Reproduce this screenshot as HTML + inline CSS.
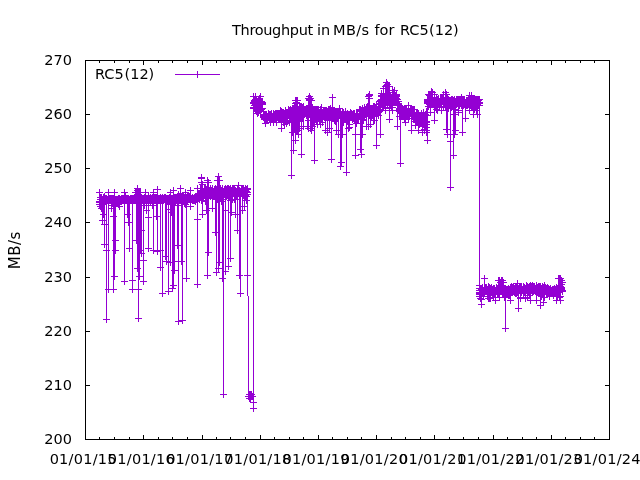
<!DOCTYPE html><html><head><meta charset="utf-8"><style>html,body{margin:0;padding:0;background:#fff;}svg{display:block;will-change:transform}text{font-family:"DejaVu Sans","Liberation Sans",sans-serif;font-size:14.5px;fill:#000}</style></head><body>
<svg width="640" height="480" viewBox="0 0 640 480">
<rect width="640" height="480" fill="#fff"/>
<path d="M85,439.5h5M610,439.5h-5M85,385.5h5M610,385.5h-5M85,331.5h5M610,331.5h-5M85,277.5h5M610,277.5h-5M85,222.5h5M610,222.5h-5M85,168.5h5M610,168.5h-5M85,114.5h5M610,114.5h-5M85,60.5h5M610,60.5h-5M85.5,60v5M85.5,440v-5M99.5,60v3M99.5,440v-3M114.5,60v3M114.5,440v-3M129.5,60v3M129.5,440v-3M143.5,60v5M143.5,440v-5M158.5,60v3M158.5,440v-3M172.5,60v3M172.5,440v-3M187.5,60v3M187.5,440v-3M202.5,60v5M202.5,440v-5M216.5,60v3M216.5,440v-3M230.5,60v3M230.5,440v-3M245.5,60v3M245.5,440v-3M260.5,60v5M260.5,440v-5M274.5,60v3M274.5,440v-3M289.5,60v3M289.5,440v-3M303.5,60v3M303.5,440v-3M318.5,60v5M318.5,440v-5M332.5,60v3M332.5,440v-3M347.5,60v3M347.5,440v-3M361.5,60v3M361.5,440v-3M376.5,60v5M376.5,440v-5M391.5,60v3M391.5,440v-3M405.5,60v3M405.5,440v-3M420.5,60v3M420.5,440v-3M434.5,60v5M434.5,440v-5M449.5,60v3M449.5,440v-3M463.5,60v3M463.5,440v-3M478.5,60v3M478.5,440v-3M493.5,60v5M493.5,440v-5M507.5,60v3M507.5,440v-3M522.5,60v3M522.5,440v-3M536.5,60v3M536.5,440v-3M551.5,60v5M551.5,440v-5M565.5,60v3M565.5,440v-3M580.5,60v3M580.5,440v-3M594.5,60v3M594.5,440v-3" stroke="#000" stroke-width="1" fill="none" shape-rendering="crispEdges"/>
<rect x="85.5" y="60.5" width="524" height="379" stroke="#000" stroke-width="1" fill="none" shape-rendering="crispEdges"/>
<text x="72" y="444" text-anchor="end">200</text>
<text x="72" y="390" text-anchor="end">210</text>
<text x="72" y="336" text-anchor="end">220</text>
<text x="72" y="282" text-anchor="end">230</text>
<text x="72" y="227" text-anchor="end">240</text>
<text x="72" y="173" text-anchor="end">250</text>
<text x="72" y="119" text-anchor="end">260</text>
<text x="72" y="65" text-anchor="end">270</text>
<text x="83.2" y="463.5" text-anchor="middle" letter-spacing="0.25">01/01/15</text>
<text x="141.4" y="463.5" text-anchor="middle" letter-spacing="0.25">01/01/16</text>
<text x="199.7" y="463.5" text-anchor="middle" letter-spacing="0.25">01/01/17</text>
<text x="257.9" y="463.5" text-anchor="middle" letter-spacing="0.25">01/01/18</text>
<text x="316.1" y="463.5" text-anchor="middle" letter-spacing="0.25">01/01/19</text>
<text x="374.3" y="463.5" text-anchor="middle" letter-spacing="0.25">01/01/20</text>
<text x="432.6" y="463.5" text-anchor="middle" letter-spacing="0.25">01/01/21</text>
<text x="490.8" y="463.5" text-anchor="middle" letter-spacing="0.25">01/01/22</text>
<text x="549.0" y="463.5" text-anchor="middle" letter-spacing="0.25">01/01/23</text>
<text x="607.2" y="463.5" text-anchor="middle" letter-spacing="0.25">01/01/24</text>
<text y="35"><tspan x="232" letter-spacing="-0.33">Throughput</tspan> <tspan x="317">in</tspan> <tspan x="333" letter-spacing="0.4">MB/s</tspan> <tspan x="374.5">for</tspan> <tspan x="400">RC5</tspan><tspan x="429">(12)</tspan></text>
<text transform="translate(19.7,250.3) rotate(-90)" text-anchor="middle" letter-spacing="0.45" style="font-size:15px">MB/s</text>
<text y="79"><tspan x="95">RC5</tspan><tspan x="124.5">(12)</tspan></text>
<path d="M175,74.5h45M197.5,71v7" stroke="#9400d3" stroke-width="1" fill="none" shape-rendering="crispEdges"/>
<g stroke="#9400d3" stroke-width="1" fill="none" shape-rendering="crispEdges"><polyline points="99.5,202.5 99.5,192.5 99.5,201.5 99.5,202.5 99.5,202.5 99.5,204.5 100.5,199.5 100.5,204.5 100.5,197.5 100.5,206.5 100.5,202.5 101.5,197.5 101.5,197.5 101.5,199.5 101.5,208.5 101.5,204.5 102.5,202.5 102.5,220.5 102.5,202.5 102.5,199.5 102.5,204.5 102.5,202.5 103.5,198.5 103.5,214.5 103.5,197.5 103.5,199.5 103.5,199.5 103.5,202.5 104.5,196.5 104.5,224.5 104.5,199.5 104.5,244.5 104.5,199.5 104.5,199.5 104.5,198.5 105.5,198.5 105.5,200.5 105.5,198.5 105.5,198.5 105.5,198.5 106.5,199.5 106.5,250.5 106.5,200.5 106.5,319.5 106.5,199.5 106.5,199.5 106.5,198.5 107.5,200.5 107.5,200.5 107.5,199.5 107.5,199.5 107.5,200.5 108.5,198.5 108.5,289.5 108.5,198.5 108.5,192.5 108.5,198.5 108.5,199.5 108.5,199.5 109.5,199.5 109.5,199.5 109.5,200.5 109.5,198.5 109.5,200.5 110.5,198.5 110.5,200.5 110.5,200.5 110.5,199.5 110.5,198.5 111.5,205.5 111.5,208.5 111.5,200.5 111.5,200.5 111.5,198.5 111.5,200.5 112.5,198.5 112.5,200.5 112.5,198.5 112.5,198.5 112.5,203.5 113.5,198.5 113.5,216.5 113.5,199.5 113.5,289.5 113.5,198.5 113.5,200.5 113.5,199.5 114.5,199.5 114.5,276.5 114.5,198.5 114.5,192.5 114.5,205.5 114.5,200.5 114.5,204.5 115.5,200.5 115.5,240.5 115.5,200.5 115.5,250.5 115.5,199.5 115.5,200.5 115.5,200.5 116.5,200.5 116.5,200.5 116.5,200.5 116.5,200.5 116.5,199.5 117.5,199.5 117.5,199.5 117.5,199.5 117.5,200.5 117.5,199.5 118.5,199.5 118.5,200.5 118.5,200.5 118.5,204.5 118.5,198.5 119.5,199.5 119.5,206.5 119.5,200.5 119.5,198.5 119.5,200.5 119.5,198.5 120.5,199.5 120.5,200.5 120.5,199.5 120.5,199.5 120.5,200.5 121.5,199.5 121.5,198.5 121.5,199.5 121.5,200.5 121.5,200.5 122.5,198.5 122.5,198.5 122.5,199.5 122.5,199.5 122.5,200.5 123.5,199.5 123.5,198.5 123.5,198.5 123.5,199.5 123.5,200.5 124.5,202.5 124.5,281.5 124.5,198.5 124.5,192.5 124.5,198.5 124.5,198.5 124.5,199.5 125.5,199.5 125.5,200.5 125.5,198.5 125.5,198.5 125.5,195.5 126.5,198.5 126.5,199.5 126.5,199.5 126.5,200.5 126.5,200.5 127.5,198.5 127.5,214.5 127.5,200.5 127.5,199.5 127.5,200.5 127.5,199.5 128.5,200.5 128.5,222.5 128.5,199.5 128.5,198.5 128.5,200.5 128.5,200.5 129.5,200.5 129.5,248.5 129.5,200.5 129.5,200.5 129.5,200.5 129.5,199.5 130.5,199.5 130.5,200.5 130.5,198.5 130.5,198.5 130.5,198.5 131.5,200.5 131.5,198.5 131.5,200.5 131.5,200.5 131.5,199.5 132.5,198.5 132.5,280.5 132.5,199.5 132.5,289.5 132.5,200.5 132.5,199.5 132.5,199.5 133.5,199.5 133.5,200.5 133.5,200.5 133.5,199.5 133.5,198.5 134.5,199.5 134.5,197.5 134.5,199.5 134.5,200.5 134.5,198.5 135.5,197.5 135.5,192.5 135.5,198.5 135.5,200.5 135.5,198.5 135.5,198.5 136.5,200.5 136.5,240.5 136.5,198.5 136.5,192.5 136.5,199.5 136.5,197.5 136.5,197.5 137.5,197.5 137.5,268.5 137.5,198.5 137.5,190.5 137.5,199.5 137.5,188.5 137.5,199.5 137.5,199.5 138.5,197.5 138.5,318.5 138.5,198.5 138.5,289.5 138.5,198.5 138.5,192.5 138.5,197.5 138.5,199.5 139.5,199.5 139.5,276.5 139.5,199.5 139.5,192.5 139.5,197.5 139.5,200.5 139.5,198.5 140.5,200.5 140.5,250.5 140.5,200.5 140.5,192.5 140.5,197.5 140.5,199.5 140.5,197.5 141.5,198.5 141.5,230.5 141.5,197.5 141.5,253.5 141.5,199.5 141.5,202.5 141.5,200.5 142.5,198.5 142.5,200.5 142.5,200.5 142.5,198.5 142.5,198.5 143.5,199.5 143.5,260.5 143.5,198.5 143.5,281.5 143.5,198.5 143.5,200.5 143.5,198.5 144.5,205.5 144.5,200.5 144.5,199.5 144.5,199.5 144.5,197.5 145.5,200.5 145.5,192.5 145.5,199.5 145.5,199.5 145.5,198.5 145.5,197.5 146.5,200.5 146.5,210.5 146.5,200.5 146.5,199.5 146.5,199.5 146.5,200.5 147.5,200.5 147.5,200.5 147.5,199.5 147.5,200.5 147.5,200.5 148.5,199.5 148.5,217.5 148.5,198.5 148.5,248.5 148.5,199.5 148.5,195.5 148.5,199.5 149.5,200.5 149.5,198.5 149.5,199.5 149.5,199.5 149.5,199.5 150.5,200.5 150.5,197.5 150.5,200.5 150.5,199.5 150.5,202.5 151.5,198.5 151.5,200.5 151.5,199.5 151.5,199.5 151.5,199.5 152.5,197.5 152.5,200.5 152.5,205.5 152.5,199.5 152.5,199.5 153.5,197.5 153.5,250.5 153.5,199.5 153.5,192.5 153.5,199.5 153.5,198.5 153.5,199.5 154.5,200.5 154.5,197.5 154.5,197.5 154.5,200.5 154.5,200.5 155.5,197.5 155.5,200.5 155.5,200.5 155.5,199.5 155.5,198.5 156.5,200.5 156.5,216.5 156.5,199.5 156.5,200.5 156.5,197.5 156.5,199.5 157.5,197.5 157.5,251.5 157.5,197.5 157.5,189.5 157.5,199.5 157.5,198.5 157.5,198.5 158.5,199.5 158.5,200.5 158.5,198.5 158.5,200.5 158.5,199.5 159.5,198.5 159.5,199.5 159.5,199.5 159.5,198.5 159.5,200.5 160.5,200.5 160.5,250.5 160.5,202.5 160.5,267.5 160.5,198.5 160.5,197.5 160.5,197.5 161.5,199.5 161.5,199.5 161.5,199.5 161.5,198.5 161.5,200.5 162.5,197.5 162.5,293.5 162.5,199.5 162.5,198.5 162.5,198.5 162.5,198.5 163.5,200.5 163.5,199.5 163.5,200.5 163.5,198.5 163.5,200.5 164.5,197.5 164.5,199.5 164.5,198.5 164.5,197.5 164.5,199.5 165.5,198.5 165.5,256.5 165.5,199.5 165.5,197.5 165.5,199.5 165.5,197.5 166.5,199.5 166.5,261.5 166.5,200.5 166.5,198.5 166.5,198.5 166.5,198.5 167.5,200.5 167.5,198.5 167.5,198.5 167.5,198.5 167.5,199.5 168.5,199.5 168.5,291.5 168.5,199.5 168.5,209.5 168.5,200.5 168.5,198.5 168.5,204.5 169.5,199.5 169.5,199.5 169.5,197.5 169.5,200.5 169.5,197.5 170.5,200.5 170.5,262.5 170.5,199.5 170.5,192.5 170.5,200.5 170.5,198.5 170.5,200.5 171.5,200.5 171.5,212.5 171.5,198.5 171.5,199.5 171.5,199.5 171.5,199.5 172.5,198.5 172.5,288.5 172.5,199.5 172.5,200.5 172.5,200.5 172.5,199.5 173.5,199.5 173.5,285.5 173.5,198.5 173.5,190.5 173.5,197.5 173.5,200.5 173.5,197.5 174.5,198.5 174.5,270.5 174.5,200.5 174.5,203.5 174.5,199.5 174.5,197.5 175.5,198.5 175.5,200.5 175.5,202.5 175.5,197.5 175.5,199.5 176.5,197.5 176.5,198.5 176.5,199.5 176.5,199.5 176.5,198.5 177.5,200.5 177.5,245.5 177.5,198.5 177.5,200.5 177.5,197.5 177.5,205.5 178.5,198.5 178.5,261.5 178.5,198.5 178.5,321.5 178.5,200.5 178.5,197.5 178.5,194.5 179.5,200.5 179.5,199.5 179.5,197.5 179.5,197.5 179.5,198.5 180.5,200.5 180.5,188.5 180.5,198.5 180.5,199.5 180.5,193.5 180.5,200.5 181.5,197.5 181.5,261.5 181.5,197.5 181.5,198.5 181.5,199.5 181.5,197.5 182.5,198.5 182.5,320.5 182.5,197.5 182.5,197.5 182.5,198.5 182.5,200.5 183.5,197.5 183.5,197.5 183.5,199.5 183.5,199.5 183.5,198.5 184.5,200.5 184.5,199.5 184.5,203.5 184.5,197.5 184.5,198.5 185.5,192.5 185.5,204.5 185.5,197.5 185.5,197.5 185.5,198.5 185.5,197.5 186.5,199.5 186.5,278.5 186.5,197.5 186.5,197.5 186.5,198.5 186.5,197.5 187.5,196.5 187.5,196.5 187.5,199.5 187.5,198.5 187.5,198.5 188.5,197.5 188.5,196.5 188.5,196.5 188.5,198.5 188.5,199.5 189.5,199.5 189.5,197.5 189.5,196.5 189.5,199.5 189.5,199.5 190.5,198.5 190.5,206.5 190.5,202.5 190.5,190.5 190.5,198.5 190.5,197.5 190.5,199.5 191.5,198.5 191.5,199.5 191.5,198.5 191.5,198.5 191.5,199.5 192.5,198.5 192.5,199.5 192.5,200.5 192.5,197.5 192.5,197.5 193.5,199.5 193.5,199.5 193.5,198.5 193.5,200.5 193.5,199.5 194.5,198.5 194.5,197.5 194.5,200.5 194.5,198.5 194.5,199.5 195.5,199.5 195.5,198.5 195.5,196.5 195.5,196.5 195.5,201.5 196.5,199.5 196.5,197.5 196.5,199.5 196.5,198.5 196.5,196.5 197.5,197.5 197.5,219.5 197.5,197.5 197.5,284.5 197.5,196.5 197.5,188.5 197.5,197.5 197.5,197.5 198.5,196.5 198.5,196.5 198.5,198.5 198.5,197.5 198.5,198.5 199.5,199.5 199.5,199.5 199.5,199.5 199.5,197.5 199.5,199.5 200.5,192.5 200.5,196.5 200.5,188.5 200.5,196.5 200.5,193.5 201.5,190.5 201.5,178.5 201.5,188.5 201.5,182.5 201.5,192.5 201.5,177.5 201.5,191.5 201.5,200.5 202.5,190.5 202.5,214.5 202.5,191.5 202.5,184.5 202.5,188.5 202.5,196.5 202.5,195.5 203.5,195.5 203.5,194.5 203.5,196.5 203.5,195.5 203.5,192.5 204.5,188.5 204.5,190.5 204.5,188.5 204.5,195.5 204.5,191.5 205.5,188.5 205.5,201.5 205.5,192.5 205.5,196.5 205.5,189.5 206.5,196.5 206.5,210.5 206.5,189.5 206.5,191.5 206.5,189.5 206.5,196.5 207.5,193.5 207.5,275.5 207.5,195.5 207.5,180.5 207.5,198.5 207.5,180.5 207.5,190.5 207.5,195.5 208.5,189.5 208.5,252.5 208.5,196.5 208.5,182.5 208.5,188.5 208.5,190.5 208.5,189.5 209.5,190.5 209.5,195.5 209.5,193.5 209.5,193.5 209.5,190.5 210.5,194.5 210.5,193.5 210.5,196.5 210.5,192.5 210.5,188.5 211.5,190.5 211.5,195.5 211.5,190.5 211.5,190.5 211.5,192.5 212.5,196.5 212.5,208.5 212.5,188.5 212.5,194.5 212.5,196.5 212.5,189.5 213.5,193.5 213.5,193.5 213.5,192.5 213.5,195.5 213.5,192.5 214.5,189.5 214.5,189.5 214.5,190.5 214.5,194.5 214.5,195.5 215.5,192.5 215.5,232.5 215.5,193.5 215.5,188.5 215.5,194.5 215.5,195.5 216.5,189.5 216.5,272.5 216.5,199.5 216.5,191.5 216.5,195.5 216.5,196.5 217.5,192.5 217.5,180.5 217.5,190.5 217.5,190.5 217.5,199.5 217.5,192.5 218.5,193.5 218.5,268.5 218.5,195.5 218.5,180.5 218.5,190.5 218.5,176.5 218.5,194.5 218.5,195.5 219.5,199.5 219.5,262.5 219.5,189.5 219.5,180.5 219.5,188.5 219.5,194.5 219.5,189.5 220.5,194.5 220.5,198.5 220.5,189.5 220.5,190.5 220.5,188.5 221.5,201.5 221.5,194.5 221.5,190.5 221.5,190.5 221.5,196.5 222.5,191.5 222.5,278.5 222.5,193.5 222.5,199.5 222.5,188.5 222.5,194.5 223.5,193.5 223.5,394.5 223.5,192.5 223.5,195.5 223.5,195.5 223.5,191.5 224.5,192.5 224.5,189.5 224.5,192.5 224.5,192.5 224.5,194.5 225.5,189.5 225.5,210.5 225.5,188.5 225.5,271.5 225.5,191.5 225.5,188.5 225.5,190.5 226.5,196.5 226.5,190.5 226.5,189.5 226.5,191.5 226.5,194.5 227.5,188.5 227.5,191.5 227.5,195.5 227.5,194.5 227.5,188.5 228.5,190.5 228.5,266.5 228.5,198.5 228.5,188.5 228.5,191.5 228.5,189.5 229.5,190.5 229.5,193.5 229.5,189.5 229.5,194.5 229.5,191.5 230.5,190.5 230.5,258.5 230.5,191.5 230.5,188.5 230.5,200.5 230.5,195.5 231.5,190.5 231.5,212.5 231.5,196.5 231.5,194.5 231.5,196.5 231.5,190.5 232.5,188.5 232.5,191.5 232.5,199.5 232.5,192.5 232.5,189.5 233.5,192.5 233.5,193.5 233.5,188.5 233.5,191.5 233.5,193.5 234.5,192.5 234.5,188.5 234.5,191.5 234.5,191.5 234.5,199.5 235.5,192.5 235.5,214.5 235.5,190.5 235.5,199.5 235.5,193.5 235.5,194.5 236.5,192.5 236.5,196.5 236.5,193.5 236.5,194.5 236.5,193.5 237.5,191.5 237.5,230.5 237.5,195.5 237.5,191.5 237.5,188.5 237.5,192.5 238.5,191.5 238.5,189.5 238.5,190.5 238.5,190.5 238.5,185.5 239.5,190.5 239.5,275.5 239.5,193.5 239.5,193.5 239.5,195.5 239.5,191.5 240.5,195.5 240.5,293.5 240.5,194.5 240.5,194.5 240.5,195.5 240.5,193.5 241.5,193.5 241.5,190.5 241.5,192.5 241.5,190.5 241.5,189.5 242.5,189.5 242.5,210.5 242.5,188.5 242.5,194.5 242.5,192.5 242.5,192.5 243.5,195.5 243.5,188.5 243.5,192.5 243.5,191.5 243.5,190.5 244.5,190.5 244.5,206.5 244.5,194.5 244.5,195.5 244.5,191.5 244.5,193.5 245.5,195.5 245.5,191.5 245.5,190.5 245.5,188.5 245.5,196.5 246.5,189.5 246.5,191.5 246.5,191.5 246.5,196.5 246.5,200.5 247.5,188.5 247.5,275.5 247.5,194.5 247.5,189.5 247.5,188.5 247.5,192.5 248.5,396.5 249.5,394.5 249.5,398.5 250.5,394.5 250.5,396.5 251.5,396.5 251.5,394.5 250.5,398.5 252.5,396.5 253.5,402.5 253.5,408.5 253.5,102.5 253.5,96.5 253.5,108.5 253.5,103.5 253.5,107.5 253.5,103.5 254.5,105.5 254.5,102.5 254.5,100.5 254.5,100.5 254.5,101.5 254.5,100.5 255.5,99.5 255.5,96.5 255.5,100.5 255.5,102.5 255.5,104.5 255.5,102.5 256.5,111.5 256.5,100.5 256.5,102.5 256.5,106.5 256.5,101.5 256.5,110.5 256.5,109.5 257.5,104.5 257.5,104.5 257.5,104.5 257.5,113.5 257.5,106.5 257.5,110.5 258.5,110.5 258.5,100.5 258.5,109.5 258.5,106.5 258.5,101.5 258.5,112.5 258.5,100.5 259.5,108.5 259.5,102.5 259.5,105.5 259.5,98.5 259.5,100.5 259.5,109.5 260.5,108.5 260.5,96.5 260.5,109.5 260.5,108.5 260.5,101.5 260.5,104.5 261.5,103.5 261.5,102.5 261.5,101.5 261.5,103.5 261.5,104.5 261.5,109.5 262.5,108.5 262.5,102.5 262.5,104.5 262.5,104.5 262.5,104.5 262.5,103.5 263.5,117.5 263.5,115.5 263.5,114.5 263.5,116.5 263.5,111.5 264.5,115.5 264.5,119.5 264.5,119.5 264.5,118.5 264.5,119.5 265.5,119.5 265.5,123.5 265.5,116.5 265.5,114.5 265.5,118.5 265.5,115.5 266.5,115.5 266.5,114.5 266.5,116.5 266.5,115.5 266.5,119.5 267.5,117.5 267.5,117.5 267.5,118.5 267.5,116.5 267.5,116.5 268.5,115.5 268.5,117.5 268.5,113.5 268.5,116.5 268.5,117.5 269.5,114.5 269.5,119.5 269.5,115.5 269.5,119.5 269.5,119.5 270.5,119.5 270.5,122.5 270.5,114.5 270.5,117.5 270.5,118.5 270.5,116.5 271.5,113.5 271.5,118.5 271.5,118.5 271.5,116.5 271.5,114.5 272.5,117.5 272.5,116.5 272.5,116.5 272.5,118.5 272.5,118.5 273.5,119.5 273.5,114.5 273.5,113.5 273.5,122.5 273.5,118.5 274.5,114.5 274.5,118.5 274.5,119.5 274.5,119.5 274.5,117.5 275.5,118.5 275.5,117.5 275.5,113.5 275.5,115.5 275.5,114.5 276.5,117.5 276.5,122.5 276.5,113.5 276.5,115.5 276.5,113.5 276.5,116.5 277.5,113.5 277.5,117.5 277.5,114.5 277.5,114.5 277.5,116.5 278.5,117.5 278.5,114.5 278.5,118.5 278.5,116.5 278.5,115.5 279.5,118.5 279.5,117.5 279.5,114.5 279.5,113.5 279.5,115.5 280.5,110.5 280.5,112.5 280.5,118.5 280.5,116.5 280.5,112.5 281.5,111.5 281.5,128.5 281.5,112.5 281.5,113.5 281.5,117.5 281.5,114.5 282.5,118.5 282.5,113.5 282.5,116.5 282.5,112.5 282.5,118.5 283.5,122.5 283.5,113.5 283.5,112.5 283.5,115.5 283.5,118.5 284.5,113.5 284.5,124.5 284.5,115.5 284.5,118.5 284.5,113.5 284.5,115.5 285.5,118.5 285.5,113.5 285.5,113.5 285.5,110.5 285.5,115.5 286.5,116.5 286.5,117.5 286.5,116.5 286.5,113.5 286.5,123.5 287.5,117.5 287.5,121.5 287.5,114.5 287.5,116.5 287.5,114.5 288.5,114.5 288.5,110.5 288.5,112.5 288.5,111.5 288.5,109.5 289.5,113.5 289.5,122.5 289.5,113.5 289.5,110.5 289.5,110.5 289.5,114.5 290.5,115.5 290.5,118.5 290.5,109.5 290.5,117.5 290.5,116.5 291.5,114.5 291.5,175.5 291.5,120.5 291.5,118.5 291.5,117.5 291.5,121.5 292.5,108.5 292.5,132.5 292.5,116.5 292.5,111.5 292.5,115.5 292.5,112.5 293.5,115.5 293.5,150.5 293.5,109.5 293.5,108.5 293.5,110.5 293.5,109.5 294.5,110.5 294.5,128.5 294.5,121.5 294.5,120.5 294.5,110.5 294.5,107.5 295.5,109.5 295.5,140.5 295.5,108.5 295.5,100.5 295.5,111.5 295.5,103.5 295.5,106.5 296.5,116.5 296.5,130.5 296.5,112.5 296.5,100.5 296.5,109.5 296.5,102.5 296.5,112.5 296.5,100.5 296.5,111.5 297.5,114.5 297.5,130.5 297.5,118.5 297.5,100.5 297.5,108.5 297.5,110.5 297.5,110.5 298.5,113.5 298.5,134.5 298.5,116.5 298.5,109.5 298.5,115.5 298.5,113.5 299.5,121.5 299.5,128.5 299.5,120.5 299.5,116.5 299.5,106.5 299.5,114.5 300.5,106.5 300.5,110.5 300.5,116.5 300.5,106.5 300.5,110.5 301.5,110.5 301.5,154.5 301.5,110.5 301.5,109.5 301.5,106.5 301.5,115.5 302.5,112.5 302.5,107.5 302.5,116.5 302.5,116.5 302.5,110.5 303.5,115.5 303.5,126.5 303.5,115.5 303.5,106.5 303.5,110.5 303.5,116.5 304.5,113.5 304.5,114.5 304.5,114.5 304.5,112.5 304.5,109.5 305.5,109.5 305.5,111.5 305.5,112.5 305.5,109.5 305.5,111.5 306.5,109.5 306.5,108.5 306.5,114.5 306.5,108.5 306.5,115.5 307.5,113.5 307.5,126.5 307.5,112.5 307.5,116.5 307.5,111.5 307.5,108.5 308.5,107.5 308.5,128.5 308.5,115.5 308.5,98.5 308.5,120.5 308.5,112.5 308.5,107.5 309.5,114.5 309.5,100.5 309.5,107.5 309.5,96.5 309.5,108.5 309.5,99.5 309.5,111.5 309.5,107.5 310.5,112.5 310.5,128.5 310.5,116.5 310.5,98.5 310.5,110.5 310.5,113.5 310.5,115.5 311.5,108.5 311.5,130.5 311.5,106.5 311.5,100.5 311.5,108.5 311.5,108.5 311.5,111.5 312.5,109.5 312.5,126.5 312.5,111.5 312.5,107.5 312.5,115.5 312.5,111.5 313.5,112.5 313.5,116.5 313.5,110.5 313.5,122.5 313.5,115.5 314.5,113.5 314.5,160.5 314.5,115.5 314.5,113.5 314.5,112.5 314.5,117.5 315.5,117.5 315.5,109.5 315.5,109.5 315.5,110.5 315.5,111.5 316.5,109.5 316.5,109.5 316.5,121.5 316.5,115.5 316.5,116.5 317.5,109.5 317.5,124.5 317.5,110.5 317.5,112.5 317.5,110.5 317.5,112.5 318.5,109.5 318.5,114.5 318.5,114.5 318.5,111.5 318.5,115.5 319.5,117.5 319.5,117.5 319.5,117.5 319.5,120.5 319.5,115.5 320.5,114.5 320.5,124.5 320.5,109.5 320.5,117.5 320.5,119.5 320.5,117.5 321.5,119.5 321.5,115.5 321.5,114.5 321.5,116.5 321.5,107.5 322.5,117.5 322.5,112.5 322.5,112.5 322.5,122.5 322.5,114.5 323.5,112.5 323.5,113.5 323.5,116.5 323.5,110.5 323.5,113.5 324.5,111.5 324.5,114.5 324.5,113.5 324.5,116.5 324.5,111.5 325.5,111.5 325.5,130.5 325.5,115.5 325.5,113.5 325.5,115.5 325.5,110.5 326.5,117.5 326.5,112.5 326.5,117.5 326.5,110.5 326.5,116.5 327.5,115.5 327.5,132.5 327.5,111.5 327.5,115.5 327.5,116.5 327.5,120.5 328.5,109.5 328.5,109.5 328.5,116.5 328.5,116.5 328.5,116.5 329.5,114.5 329.5,128.5 329.5,109.5 329.5,114.5 329.5,114.5 329.5,112.5 330.5,109.5 330.5,116.5 330.5,109.5 330.5,108.5 330.5,109.5 331.5,114.5 331.5,159.5 331.5,115.5 331.5,114.5 331.5,110.5 331.5,110.5 332.5,116.5 332.5,97.5 332.5,114.5 332.5,113.5 332.5,112.5 332.5,118.5 333.5,115.5 333.5,114.5 333.5,118.5 333.5,110.5 333.5,113.5 334.5,120.5 334.5,116.5 334.5,110.5 334.5,117.5 334.5,115.5 335.5,111.5 335.5,121.5 335.5,121.5 335.5,113.5 335.5,115.5 336.5,113.5 336.5,130.5 336.5,115.5 336.5,115.5 336.5,113.5 336.5,112.5 337.5,117.5 337.5,111.5 337.5,118.5 337.5,111.5 337.5,112.5 338.5,111.5 338.5,134.5 338.5,112.5 338.5,116.5 338.5,115.5 338.5,118.5 339.5,113.5 339.5,108.5 339.5,115.5 339.5,114.5 339.5,114.5 340.5,116.5 340.5,166.5 340.5,112.5 340.5,111.5 340.5,112.5 340.5,117.5 341.5,118.5 341.5,162.5 341.5,114.5 341.5,118.5 341.5,114.5 341.5,117.5 342.5,113.5 342.5,134.5 342.5,112.5 342.5,117.5 342.5,118.5 342.5,117.5 343.5,117.5 343.5,112.5 343.5,113.5 343.5,118.5 343.5,122.5 344.5,117.5 344.5,118.5 344.5,116.5 344.5,116.5 344.5,118.5 345.5,113.5 345.5,116.5 345.5,118.5 345.5,112.5 345.5,111.5 346.5,117.5 346.5,172.5 346.5,118.5 346.5,118.5 346.5,115.5 346.5,114.5 347.5,120.5 347.5,113.5 347.5,117.5 347.5,115.5 347.5,113.5 348.5,116.5 348.5,128.5 348.5,118.5 348.5,118.5 348.5,114.5 348.5,116.5 349.5,117.5 349.5,127.5 349.5,114.5 349.5,115.5 349.5,124.5 349.5,115.5 350.5,114.5 350.5,116.5 350.5,114.5 350.5,112.5 350.5,116.5 351.5,117.5 351.5,115.5 351.5,116.5 351.5,113.5 351.5,117.5 352.5,116.5 352.5,119.5 352.5,114.5 352.5,119.5 352.5,114.5 353.5,113.5 353.5,116.5 353.5,118.5 353.5,115.5 353.5,117.5 354.5,116.5 354.5,114.5 354.5,119.5 354.5,113.5 354.5,115.5 355.5,116.5 355.5,134.5 355.5,116.5 355.5,155.5 355.5,118.5 355.5,117.5 355.5,117.5 356.5,123.5 356.5,114.5 356.5,113.5 356.5,116.5 356.5,114.5 357.5,119.5 357.5,117.5 357.5,119.5 357.5,115.5 357.5,119.5 358.5,116.5 358.5,119.5 358.5,118.5 358.5,116.5 358.5,116.5 359.5,109.5 359.5,110.5 359.5,114.5 359.5,111.5 359.5,111.5 360.5,115.5 360.5,149.5 360.5,114.5 360.5,113.5 360.5,109.5 360.5,116.5 361.5,113.5 361.5,154.5 361.5,113.5 361.5,114.5 361.5,116.5 361.5,113.5 362.5,119.5 362.5,134.5 362.5,108.5 362.5,108.5 362.5,116.5 362.5,116.5 363.5,120.5 363.5,115.5 363.5,112.5 363.5,114.5 363.5,112.5 364.5,113.5 364.5,111.5 364.5,107.5 364.5,109.5 364.5,116.5 365.5,112.5 365.5,111.5 365.5,112.5 365.5,113.5 365.5,114.5 366.5,107.5 366.5,126.5 366.5,111.5 366.5,116.5 366.5,116.5 366.5,114.5 367.5,109.5 367.5,113.5 367.5,110.5 367.5,109.5 367.5,106.5 368.5,113.5 368.5,126.5 368.5,109.5 368.5,96.5 368.5,116.5 368.5,107.5 368.5,106.5 369.5,114.5 369.5,94.5 369.5,111.5 369.5,98.5 369.5,106.5 369.5,95.5 369.5,115.5 369.5,113.5 370.5,109.5 370.5,124.5 370.5,108.5 370.5,109.5 370.5,114.5 370.5,112.5 371.5,108.5 371.5,112.5 371.5,116.5 371.5,110.5 371.5,115.5 372.5,113.5 372.5,109.5 372.5,108.5 372.5,115.5 372.5,110.5 373.5,113.5 373.5,120.5 373.5,115.5 373.5,112.5 373.5,106.5 374.5,116.5 374.5,115.5 374.5,106.5 374.5,120.5 374.5,108.5 375.5,113.5 375.5,110.5 375.5,111.5 375.5,109.5 375.5,108.5 376.5,104.5 376.5,145.5 376.5,112.5 376.5,106.5 376.5,110.5 376.5,108.5 377.5,113.5 377.5,112.5 377.5,110.5 377.5,109.5 377.5,110.5 378.5,110.5 378.5,115.5 378.5,104.5 378.5,104.5 378.5,112.5 379.5,103.5 379.5,111.5 379.5,109.5 379.5,106.5 379.5,107.5 380.5,109.5 380.5,134.5 380.5,107.5 380.5,100.5 380.5,104.5 380.5,101.5 381.5,100.5 381.5,93.5 381.5,95.5 381.5,95.5 381.5,99.5 381.5,96.5 382.5,105.5 382.5,103.5 382.5,101.5 382.5,100.5 382.5,102.5 383.5,99.5 383.5,94.5 383.5,98.5 383.5,88.5 383.5,101.5 383.5,107.5 383.5,97.5 384.5,103.5 384.5,105.5 384.5,96.5 384.5,97.5 384.5,102.5 385.5,95.5 385.5,86.5 385.5,110.5 385.5,97.5 385.5,107.5 385.5,105.5 386.5,97.5 386.5,82.5 386.5,97.5 386.5,86.5 386.5,101.5 386.5,85.5 386.5,95.5 386.5,99.5 387.5,97.5 387.5,84.5 387.5,97.5 387.5,105.5 387.5,98.5 387.5,102.5 388.5,97.5 388.5,86.5 388.5,98.5 388.5,102.5 388.5,102.5 388.5,99.5 389.5,100.5 389.5,119.5 389.5,108.5 389.5,94.5 389.5,100.5 389.5,86.5 389.5,107.5 389.5,99.5 390.5,96.5 390.5,105.5 390.5,100.5 390.5,103.5 390.5,97.5 391.5,102.5 391.5,104.5 391.5,107.5 391.5,104.5 391.5,103.5 392.5,102.5 392.5,90.5 392.5,110.5 392.5,96.5 392.5,107.5 392.5,99.5 393.5,95.5 393.5,92.5 393.5,101.5 393.5,95.5 393.5,98.5 393.5,96.5 394.5,102.5 394.5,90.5 394.5,96.5 394.5,99.5 394.5,101.5 394.5,99.5 395.5,95.5 395.5,97.5 395.5,95.5 395.5,101.5 395.5,100.5 396.5,96.5 396.5,94.5 396.5,102.5 396.5,102.5 396.5,95.5 396.5,98.5 397.5,103.5 397.5,126.5 397.5,105.5 397.5,99.5 397.5,103.5 397.5,105.5 398.5,104.5 398.5,101.5 398.5,104.5 398.5,104.5 398.5,104.5 399.5,116.5 399.5,111.5 399.5,109.5 399.5,108.5 399.5,110.5 400.5,113.5 400.5,163.5 400.5,112.5 400.5,116.5 400.5,111.5 400.5,109.5 401.5,109.5 401.5,111.5 401.5,106.5 401.5,106.5 401.5,116.5 402.5,108.5 402.5,110.5 402.5,114.5 402.5,116.5 402.5,110.5 403.5,110.5 403.5,112.5 403.5,109.5 403.5,116.5 403.5,113.5 404.5,108.5 404.5,109.5 404.5,113.5 404.5,116.5 404.5,118.5 405.5,119.5 405.5,122.5 405.5,114.5 405.5,115.5 405.5,109.5 405.5,108.5 406.5,108.5 406.5,108.5 406.5,109.5 406.5,115.5 406.5,109.5 407.5,114.5 407.5,112.5 407.5,115.5 407.5,116.5 407.5,114.5 408.5,112.5 408.5,105.5 408.5,113.5 408.5,112.5 408.5,118.5 409.5,114.5 409.5,115.5 409.5,112.5 409.5,115.5 409.5,116.5 410.5,111.5 410.5,111.5 410.5,108.5 410.5,108.5 410.5,109.5 411.5,111.5 411.5,130.5 411.5,114.5 411.5,110.5 411.5,115.5 411.5,108.5 412.5,112.5 412.5,109.5 412.5,114.5 412.5,114.5 412.5,112.5 413.5,109.5 413.5,112.5 413.5,116.5 413.5,109.5 413.5,113.5 414.5,118.5 414.5,109.5 414.5,114.5 414.5,119.5 414.5,116.5 415.5,121.5 415.5,117.5 415.5,118.5 415.5,119.5 415.5,125.5 416.5,118.5 416.5,122.5 416.5,118.5 416.5,113.5 416.5,120.5 417.5,116.5 417.5,120.5 417.5,112.5 417.5,113.5 417.5,117.5 418.5,116.5 418.5,130.5 418.5,113.5 418.5,119.5 418.5,120.5 418.5,119.5 419.5,119.5 419.5,124.5 419.5,120.5 419.5,117.5 419.5,120.5 420.5,116.5 420.5,122.5 420.5,123.5 420.5,120.5 420.5,116.5 421.5,123.5 421.5,116.5 421.5,113.5 421.5,120.5 421.5,113.5 422.5,122.5 422.5,132.5 422.5,124.5 422.5,118.5 422.5,116.5 422.5,116.5 423.5,112.5 423.5,123.5 423.5,115.5 423.5,113.5 423.5,121.5 424.5,130.5 424.5,117.5 424.5,129.5 424.5,126.5 424.5,126.5 425.5,121.5 425.5,127.5 425.5,124.5 425.5,121.5 425.5,114.5 425.5,115.5 426.5,121.5 426.5,130.5 426.5,127.5 426.5,132.5 426.5,122.5 426.5,124.5 426.5,115.5 427.5,100.5 427.5,140.5 427.5,102.5 427.5,101.5 427.5,103.5 427.5,99.5 428.5,106.5 428.5,94.5 428.5,100.5 428.5,101.5 428.5,99.5 428.5,100.5 429.5,103.5 429.5,95.5 429.5,104.5 429.5,99.5 429.5,102.5 430.5,100.5 430.5,112.5 430.5,99.5 430.5,94.5 430.5,99.5 430.5,98.5 430.5,99.5 431.5,102.5 431.5,91.5 431.5,94.5 431.5,100.5 431.5,103.5 431.5,99.5 432.5,103.5 432.5,92.5 432.5,99.5 432.5,99.5 432.5,104.5 432.5,101.5 433.5,100.5 433.5,102.5 433.5,103.5 433.5,101.5 433.5,100.5 434.5,102.5 434.5,120.5 434.5,100.5 434.5,94.5 434.5,99.5 434.5,107.5 434.5,98.5 435.5,100.5 435.5,103.5 435.5,107.5 435.5,100.5 435.5,102.5 436.5,100.5 436.5,98.5 436.5,109.5 436.5,103.5 436.5,98.5 437.5,100.5 437.5,110.5 437.5,103.5 437.5,101.5 437.5,101.5 437.5,99.5 438.5,104.5 438.5,104.5 438.5,99.5 438.5,99.5 438.5,98.5 439.5,101.5 439.5,102.5 439.5,104.5 439.5,101.5 439.5,107.5 440.5,100.5 440.5,102.5 440.5,98.5 440.5,103.5 440.5,99.5 441.5,98.5 441.5,110.5 441.5,101.5 441.5,101.5 441.5,98.5 441.5,100.5 442.5,100.5 442.5,98.5 442.5,100.5 442.5,98.5 442.5,98.5 443.5,100.5 443.5,94.5 443.5,101.5 443.5,106.5 443.5,101.5 443.5,100.5 444.5,101.5 444.5,103.5 444.5,103.5 444.5,101.5 444.5,102.5 445.5,103.5 445.5,92.5 445.5,98.5 445.5,92.5 445.5,102.5 445.5,104.5 445.5,107.5 446.5,104.5 446.5,129.5 446.5,101.5 446.5,94.5 446.5,103.5 446.5,103.5 446.5,104.5 447.5,97.5 447.5,134.5 447.5,105.5 447.5,100.5 447.5,103.5 447.5,99.5 448.5,102.5 448.5,108.5 448.5,99.5 448.5,105.5 448.5,102.5 449.5,103.5 449.5,101.5 449.5,102.5 449.5,103.5 449.5,105.5 450.5,104.5 450.5,187.5 450.5,100.5 450.5,141.5 450.5,103.5 450.5,101.5 450.5,101.5 451.5,107.5 451.5,104.5 451.5,99.5 451.5,100.5 451.5,105.5 452.5,99.5 452.5,105.5 452.5,102.5 452.5,104.5 452.5,100.5 453.5,103.5 453.5,155.5 453.5,103.5 453.5,105.5 453.5,100.5 453.5,105.5 454.5,104.5 454.5,134.5 454.5,104.5 454.5,114.5 454.5,99.5 454.5,114.5 454.5,104.5 454.5,99.5 455.5,109.5 455.5,130.5 455.5,105.5 455.5,102.5 455.5,103.5 455.5,101.5 456.5,99.5 456.5,104.5 456.5,102.5 456.5,102.5 456.5,102.5 457.5,99.5 457.5,100.5 457.5,100.5 457.5,103.5 457.5,103.5 458.5,110.5 458.5,112.5 458.5,104.5 458.5,101.5 458.5,99.5 458.5,99.5 459.5,105.5 459.5,103.5 459.5,105.5 459.5,105.5 459.5,99.5 460.5,103.5 460.5,103.5 460.5,99.5 460.5,103.5 460.5,103.5 461.5,104.5 461.5,102.5 461.5,101.5 461.5,97.5 461.5,105.5 462.5,100.5 462.5,132.5 462.5,99.5 462.5,101.5 462.5,103.5 462.5,104.5 463.5,105.5 463.5,102.5 463.5,99.5 463.5,105.5 463.5,102.5 464.5,100.5 464.5,99.5 464.5,100.5 464.5,104.5 464.5,103.5 465.5,104.5 465.5,118.5 465.5,107.5 465.5,104.5 465.5,104.5 465.5,102.5 466.5,103.5 466.5,105.5 466.5,100.5 466.5,101.5 466.5,103.5 467.5,100.5 467.5,103.5 467.5,103.5 467.5,105.5 467.5,105.5 468.5,104.5 468.5,103.5 468.5,99.5 468.5,99.5 468.5,102.5 469.5,95.5 469.5,110.5 469.5,102.5 469.5,99.5 469.5,99.5 470.5,105.5 470.5,99.5 470.5,103.5 470.5,104.5 470.5,101.5 471.5,100.5 471.5,105.5 471.5,104.5 471.5,100.5 471.5,95.5 472.5,105.5 472.5,99.5 472.5,99.5 472.5,103.5 472.5,101.5 473.5,100.5 473.5,114.5 473.5,99.5 473.5,101.5 473.5,105.5 473.5,104.5 474.5,99.5 474.5,109.5 474.5,99.5 474.5,100.5 474.5,104.5 475.5,100.5 475.5,105.5 475.5,105.5 475.5,99.5 475.5,105.5 476.5,101.5 476.5,110.5 476.5,99.5 476.5,100.5 476.5,103.5 477.5,99.5 477.5,114.5 477.5,99.5 477.5,104.5 477.5,104.5 477.5,101.5 478.5,99.5 478.5,102.5 478.5,105.5 478.5,100.5 478.5,102.5 479.5,102.5 479.5,103.5 479.5,99.5 479.5,105.5 479.5,105.5 479.5,294.5 479.5,290.5 479.5,292.5 479.5,296.5 479.5,288.5 479.5,285.5 479.5,293.5 480.5,290.5 480.5,298.5 480.5,292.5 480.5,288.5 480.5,292.5 480.5,293.5 481.5,289.5 481.5,304.5 481.5,290.5 481.5,299.5 481.5,293.5 481.5,294.5 482.5,293.5 482.5,288.5 482.5,287.5 482.5,290.5 482.5,289.5 483.5,293.5 483.5,292.5 483.5,294.5 483.5,291.5 483.5,292.5 484.5,290.5 484.5,278.5 484.5,291.5 484.5,290.5 484.5,290.5 484.5,292.5 485.5,290.5 485.5,287.5 485.5,291.5 485.5,287.5 485.5,287.5 486.5,287.5 486.5,287.5 486.5,291.5 486.5,291.5 486.5,289.5 487.5,291.5 487.5,291.5 487.5,296.5 487.5,293.5 487.5,291.5 488.5,287.5 488.5,290.5 488.5,288.5 488.5,286.5 488.5,298.5 489.5,287.5 489.5,298.5 489.5,291.5 489.5,292.5 489.5,291.5 490.5,292.5 490.5,298.5 490.5,293.5 490.5,293.5 490.5,294.5 490.5,288.5 491.5,289.5 491.5,287.5 491.5,288.5 491.5,292.5 491.5,292.5 492.5,289.5 492.5,293.5 492.5,294.5 492.5,294.5 492.5,291.5 493.5,289.5 493.5,288.5 493.5,293.5 493.5,288.5 493.5,297.5 494.5,293.5 494.5,290.5 494.5,291.5 494.5,291.5 494.5,288.5 495.5,290.5 495.5,300.5 495.5,294.5 495.5,291.5 495.5,290.5 495.5,292.5 496.5,288.5 496.5,288.5 496.5,287.5 496.5,287.5 496.5,291.5 497.5,290.5 497.5,288.5 497.5,292.5 497.5,292.5 497.5,294.5 498.5,290.5 498.5,280.5 498.5,288.5 498.5,289.5 498.5,292.5 498.5,294.5 499.5,290.5 499.5,280.5 499.5,291.5 499.5,287.5 499.5,297.5 499.5,291.5 500.5,289.5 500.5,282.5 500.5,291.5 500.5,290.5 500.5,290.5 500.5,291.5 501.5,289.5 501.5,280.5 501.5,290.5 501.5,280.5 501.5,290.5 501.5,287.5 501.5,287.5 502.5,287.5 502.5,280.5 502.5,294.5 502.5,293.5 502.5,282.5 502.5,290.5 503.5,290.5 503.5,282.5 503.5,289.5 503.5,293.5 503.5,290.5 503.5,290.5 504.5,291.5 504.5,294.5 504.5,288.5 504.5,293.5 504.5,297.5 505.5,288.5 505.5,328.5 505.5,288.5 505.5,289.5 505.5,288.5 505.5,290.5 506.5,292.5 506.5,294.5 506.5,289.5 506.5,292.5 506.5,291.5 507.5,293.5 507.5,293.5 507.5,289.5 507.5,290.5 507.5,290.5 508.5,292.5 508.5,294.5 508.5,295.5 508.5,288.5 508.5,295.5 509.5,293.5 509.5,295.5 509.5,295.5 509.5,290.5 509.5,291.5 510.5,290.5 510.5,300.5 510.5,291.5 510.5,289.5 510.5,287.5 510.5,290.5 511.5,290.5 511.5,288.5 511.5,286.5 511.5,287.5 511.5,291.5 512.5,291.5 512.5,292.5 512.5,288.5 512.5,289.5 512.5,287.5 513.5,291.5 513.5,286.5 513.5,290.5 513.5,288.5 513.5,289.5 514.5,291.5 514.5,291.5 514.5,290.5 514.5,292.5 514.5,288.5 515.5,286.5 515.5,290.5 515.5,290.5 515.5,293.5 515.5,292.5 516.5,289.5 516.5,290.5 516.5,287.5 516.5,293.5 516.5,288.5 517.5,288.5 517.5,292.5 517.5,283.5 517.5,287.5 517.5,288.5 518.5,288.5 518.5,308.5 518.5,289.5 518.5,289.5 518.5,290.5 518.5,289.5 519.5,288.5 519.5,289.5 519.5,287.5 519.5,286.5 519.5,287.5 520.5,298.5 520.5,288.5 520.5,297.5 520.5,286.5 520.5,286.5 521.5,292.5 521.5,287.5 521.5,292.5 521.5,290.5 521.5,286.5 522.5,289.5 522.5,289.5 522.5,290.5 522.5,289.5 522.5,289.5 523.5,293.5 523.5,291.5 523.5,289.5 523.5,286.5 523.5,287.5 524.5,289.5 524.5,288.5 524.5,287.5 524.5,292.5 524.5,287.5 525.5,288.5 525.5,298.5 525.5,291.5 525.5,291.5 525.5,292.5 525.5,288.5 526.5,287.5 526.5,288.5 526.5,289.5 526.5,285.5 526.5,288.5 527.5,286.5 527.5,292.5 527.5,287.5 527.5,297.5 527.5,287.5 528.5,290.5 528.5,291.5 528.5,288.5 528.5,287.5 528.5,291.5 529.5,289.5 529.5,286.5 529.5,295.5 529.5,290.5 529.5,291.5 530.5,288.5 530.5,300.5 530.5,286.5 530.5,288.5 530.5,291.5 530.5,285.5 531.5,288.5 531.5,290.5 531.5,290.5 531.5,286.5 531.5,288.5 532.5,289.5 532.5,286.5 532.5,285.5 532.5,290.5 532.5,291.5 533.5,289.5 533.5,291.5 533.5,290.5 533.5,291.5 533.5,286.5 534.5,286.5 534.5,287.5 534.5,287.5 534.5,287.5 534.5,290.5 535.5,290.5 535.5,291.5 535.5,290.5 535.5,291.5 535.5,288.5 536.5,285.5 536.5,300.5 536.5,287.5 536.5,285.5 536.5,285.5 536.5,288.5 537.5,289.5 537.5,289.5 537.5,289.5 537.5,291.5 537.5,287.5 538.5,291.5 538.5,287.5 538.5,289.5 538.5,286.5 538.5,290.5 539.5,290.5 539.5,286.5 539.5,293.5 539.5,286.5 539.5,286.5 540.5,295.5 540.5,305.5 540.5,286.5 540.5,290.5 540.5,286.5 540.5,287.5 541.5,288.5 541.5,288.5 541.5,296.5 541.5,290.5 541.5,288.5 542.5,286.5 542.5,291.5 542.5,291.5 542.5,290.5 542.5,288.5 543.5,289.5 543.5,302.5 543.5,290.5 543.5,294.5 543.5,290.5 543.5,287.5 544.5,289.5 544.5,288.5 544.5,285.5 544.5,297.5 544.5,289.5 545.5,289.5 545.5,287.5 545.5,290.5 545.5,290.5 545.5,290.5 546.5,289.5 546.5,290.5 546.5,294.5 546.5,288.5 546.5,292.5 547.5,291.5 547.5,292.5 547.5,289.5 547.5,287.5 547.5,289.5 548.5,291.5 548.5,290.5 548.5,288.5 548.5,292.5 548.5,290.5 549.5,290.5 549.5,289.5 549.5,290.5 549.5,296.5 549.5,291.5 550.5,292.5 550.5,290.5 550.5,289.5 550.5,289.5 550.5,288.5 551.5,291.5 551.5,292.5 551.5,290.5 551.5,291.5 551.5,291.5 552.5,289.5 552.5,291.5 552.5,291.5 552.5,291.5 552.5,292.5 553.5,291.5 553.5,290.5 553.5,289.5 553.5,295.5 553.5,291.5 554.5,289.5 554.5,292.5 554.5,289.5 554.5,288.5 554.5,290.5 555.5,289.5 555.5,291.5 555.5,290.5 555.5,292.5 555.5,292.5 556.5,287.5 556.5,300.5 556.5,291.5 556.5,291.5 556.5,292.5 556.5,289.5 557.5,291.5 557.5,292.5 557.5,292.5 557.5,288.5 557.5,296.5 558.5,292.5 558.5,278.5 558.5,291.5 558.5,287.5 558.5,289.5 558.5,287.5 559.5,291.5 559.5,278.5 559.5,288.5 559.5,297.5 559.5,291.5 559.5,286.5 560.5,289.5 560.5,300.5 560.5,291.5 560.5,278.5 560.5,286.5 560.5,286.5 560.5,296.5 561.5,289.5 561.5,280.5 561.5,289.5 561.5,284.5 561.5,288.5 561.5,287.5 561.5,288.5 562.5,290.5 562.5,282.5 562.5,290.5 562.5,291.5 562.5,290.5 562.5,291.5"/><path d="M96,202.5h7M99.5,199v7M96,192.5h7M99.5,189v7M96,201.5h7M99.5,198v7M96,204.5h7M99.5,201v7M97,199.5h7M100.5,196v7M97,204.5h7M100.5,201v7M97,197.5h7M100.5,194v7M97,206.5h7M100.5,203v7M97,202.5h7M100.5,199v7M98,197.5h7M101.5,194v7M98,199.5h7M101.5,196v7M98,208.5h7M101.5,205v7M98,204.5h7M101.5,201v7M99,202.5h7M102.5,199v7M99,220.5h7M102.5,217v7M99,199.5h7M102.5,196v7M99,204.5h7M102.5,201v7M100,198.5h7M103.5,195v7M100,214.5h7M103.5,211v7M100,197.5h7M103.5,194v7M100,199.5h7M103.5,196v7M100,202.5h7M103.5,199v7M101,196.5h7M104.5,193v7M101,224.5h7M104.5,221v7M101,199.5h7M104.5,196v7M101,244.5h7M104.5,241v7M101,198.5h7M104.5,195v7M102,198.5h7M105.5,195v7M102,200.5h7M105.5,197v7M103,199.5h7M106.5,196v7M103,250.5h7M106.5,247v7M103,200.5h7M106.5,197v7M103,319.5h7M106.5,316v7M103,198.5h7M106.5,195v7M104,200.5h7M107.5,197v7M104,199.5h7M107.5,196v7M105,198.5h7M108.5,195v7M105,289.5h7M108.5,286v7M105,192.5h7M108.5,189v7M105,199.5h7M108.5,196v7M106,199.5h7M109.5,196v7M106,200.5h7M109.5,197v7M106,198.5h7M109.5,195v7M107,198.5h7M110.5,195v7M107,200.5h7M110.5,197v7M107,199.5h7M110.5,196v7M108,205.5h7M111.5,202v7M108,208.5h7M111.5,205v7M108,200.5h7M111.5,197v7M108,198.5h7M111.5,195v7M109,198.5h7M112.5,195v7M109,200.5h7M112.5,197v7M109,203.5h7M112.5,200v7M110,198.5h7M113.5,195v7M110,216.5h7M113.5,213v7M110,199.5h7M113.5,196v7M110,289.5h7M113.5,286v7M110,200.5h7M113.5,197v7M111,199.5h7M114.5,196v7M111,276.5h7M114.5,273v7M111,198.5h7M114.5,195v7M111,192.5h7M114.5,189v7M111,205.5h7M114.5,202v7M111,200.5h7M114.5,197v7M111,204.5h7M114.5,201v7M112,200.5h7M115.5,197v7M112,240.5h7M115.5,237v7M112,250.5h7M115.5,247v7M112,199.5h7M115.5,196v7M113,200.5h7M116.5,197v7M113,199.5h7M116.5,196v7M114,199.5h7M117.5,196v7M114,200.5h7M117.5,197v7M115,199.5h7M118.5,196v7M115,200.5h7M118.5,197v7M115,204.5h7M118.5,201v7M115,198.5h7M118.5,195v7M116,199.5h7M119.5,196v7M116,206.5h7M119.5,203v7M116,200.5h7M119.5,197v7M116,198.5h7M119.5,195v7M117,199.5h7M120.5,196v7M117,200.5h7M120.5,197v7M118,199.5h7M121.5,196v7M118,198.5h7M121.5,195v7M118,200.5h7M121.5,197v7M119,198.5h7M122.5,195v7M119,199.5h7M122.5,196v7M119,200.5h7M122.5,197v7M120,199.5h7M123.5,196v7M120,198.5h7M123.5,195v7M120,200.5h7M123.5,197v7M121,202.5h7M124.5,199v7M121,281.5h7M124.5,278v7M121,198.5h7M124.5,195v7M121,192.5h7M124.5,189v7M121,199.5h7M124.5,196v7M122,199.5h7M125.5,196v7M122,200.5h7M125.5,197v7M122,198.5h7M125.5,195v7M122,195.5h7M125.5,192v7M123,198.5h7M126.5,195v7M123,199.5h7M126.5,196v7M123,200.5h7M126.5,197v7M124,198.5h7M127.5,195v7M124,214.5h7M127.5,211v7M124,200.5h7M127.5,197v7M124,199.5h7M127.5,196v7M125,200.5h7M128.5,197v7M125,222.5h7M128.5,219v7M125,199.5h7M128.5,196v7M125,198.5h7M128.5,195v7M126,200.5h7M129.5,197v7M126,248.5h7M129.5,245v7M126,199.5h7M129.5,196v7M127,199.5h7M130.5,196v7M127,200.5h7M130.5,197v7M127,198.5h7M130.5,195v7M128,200.5h7M131.5,197v7M128,198.5h7M131.5,195v7M128,199.5h7M131.5,196v7M129,198.5h7M132.5,195v7M129,280.5h7M132.5,277v7M129,199.5h7M132.5,196v7M129,289.5h7M132.5,286v7M129,200.5h7M132.5,197v7M130,199.5h7M133.5,196v7M130,200.5h7M133.5,197v7M130,198.5h7M133.5,195v7M131,199.5h7M134.5,196v7M131,197.5h7M134.5,194v7M131,200.5h7M134.5,197v7M131,198.5h7M134.5,195v7M132,197.5h7M135.5,194v7M132,192.5h7M135.5,189v7M132,198.5h7M135.5,195v7M132,200.5h7M135.5,197v7M133,200.5h7M136.5,197v7M133,240.5h7M136.5,237v7M133,198.5h7M136.5,195v7M133,192.5h7M136.5,189v7M133,199.5h7M136.5,196v7M133,197.5h7M136.5,194v7M134,197.5h7M137.5,194v7M134,268.5h7M137.5,265v7M134,198.5h7M137.5,195v7M134,190.5h7M137.5,187v7M134,199.5h7M137.5,196v7M134,188.5h7M137.5,185v7M135,197.5h7M138.5,194v7M135,318.5h7M138.5,315v7M135,198.5h7M138.5,195v7M135,289.5h7M138.5,286v7M135,192.5h7M138.5,189v7M135,199.5h7M138.5,196v7M136,199.5h7M139.5,196v7M136,276.5h7M139.5,273v7M136,192.5h7M139.5,189v7M136,197.5h7M139.5,194v7M136,200.5h7M139.5,197v7M136,198.5h7M139.5,195v7M137,200.5h7M140.5,197v7M137,250.5h7M140.5,247v7M137,192.5h7M140.5,189v7M137,197.5h7M140.5,194v7M137,199.5h7M140.5,196v7M138,198.5h7M141.5,195v7M138,230.5h7M141.5,227v7M138,197.5h7M141.5,194v7M138,253.5h7M141.5,250v7M138,199.5h7M141.5,196v7M138,202.5h7M141.5,199v7M138,200.5h7M141.5,197v7M139,198.5h7M142.5,195v7M139,200.5h7M142.5,197v7M140,199.5h7M143.5,196v7M140,260.5h7M143.5,257v7M140,198.5h7M143.5,195v7M140,281.5h7M143.5,278v7M140,200.5h7M143.5,197v7M141,205.5h7M144.5,202v7M141,200.5h7M144.5,197v7M141,199.5h7M144.5,196v7M141,197.5h7M144.5,194v7M142,200.5h7M145.5,197v7M142,192.5h7M145.5,189v7M142,199.5h7M145.5,196v7M142,198.5h7M145.5,195v7M142,197.5h7M145.5,194v7M143,200.5h7M146.5,197v7M143,210.5h7M146.5,207v7M143,199.5h7M146.5,196v7M144,200.5h7M147.5,197v7M144,199.5h7M147.5,196v7M145,199.5h7M148.5,196v7M145,217.5h7M148.5,214v7M145,198.5h7M148.5,195v7M145,248.5h7M148.5,245v7M145,195.5h7M148.5,192v7M146,200.5h7M149.5,197v7M146,198.5h7M149.5,195v7M146,199.5h7M149.5,196v7M147,200.5h7M150.5,197v7M147,197.5h7M150.5,194v7M147,199.5h7M150.5,196v7M147,202.5h7M150.5,199v7M148,198.5h7M151.5,195v7M148,200.5h7M151.5,197v7M148,199.5h7M151.5,196v7M149,197.5h7M152.5,194v7M149,200.5h7M152.5,197v7M149,205.5h7M152.5,202v7M149,199.5h7M152.5,196v7M150,197.5h7M153.5,194v7M150,250.5h7M153.5,247v7M150,199.5h7M153.5,196v7M150,192.5h7M153.5,189v7M150,198.5h7M153.5,195v7M151,200.5h7M154.5,197v7M151,197.5h7M154.5,194v7M152,197.5h7M155.5,194v7M152,200.5h7M155.5,197v7M152,199.5h7M155.5,196v7M152,198.5h7M155.5,195v7M153,200.5h7M156.5,197v7M153,216.5h7M156.5,213v7M153,199.5h7M156.5,196v7M153,197.5h7M156.5,194v7M154,197.5h7M157.5,194v7M154,251.5h7M157.5,248v7M154,189.5h7M157.5,186v7M154,199.5h7M157.5,196v7M154,198.5h7M157.5,195v7M155,199.5h7M158.5,196v7M155,200.5h7M158.5,197v7M155,198.5h7M158.5,195v7M156,198.5h7M159.5,195v7M156,199.5h7M159.5,196v7M156,200.5h7M159.5,197v7M157,200.5h7M160.5,197v7M157,250.5h7M160.5,247v7M157,202.5h7M160.5,199v7M157,267.5h7M160.5,264v7M157,198.5h7M160.5,195v7M157,197.5h7M160.5,194v7M158,199.5h7M161.5,196v7M158,198.5h7M161.5,195v7M158,200.5h7M161.5,197v7M159,197.5h7M162.5,194v7M159,293.5h7M162.5,290v7M159,199.5h7M162.5,196v7M159,198.5h7M162.5,195v7M160,200.5h7M163.5,197v7M160,199.5h7M163.5,196v7M160,198.5h7M163.5,195v7M161,197.5h7M164.5,194v7M161,199.5h7M164.5,196v7M161,198.5h7M164.5,195v7M162,198.5h7M165.5,195v7M162,256.5h7M165.5,253v7M162,199.5h7M165.5,196v7M162,197.5h7M165.5,194v7M163,199.5h7M166.5,196v7M163,261.5h7M166.5,258v7M163,200.5h7M166.5,197v7M163,198.5h7M166.5,195v7M164,200.5h7M167.5,197v7M164,198.5h7M167.5,195v7M164,199.5h7M167.5,196v7M165,199.5h7M168.5,196v7M165,291.5h7M168.5,288v7M165,209.5h7M168.5,206v7M165,200.5h7M168.5,197v7M165,198.5h7M168.5,195v7M165,204.5h7M168.5,201v7M166,199.5h7M169.5,196v7M166,197.5h7M169.5,194v7M166,200.5h7M169.5,197v7M167,200.5h7M170.5,197v7M167,262.5h7M170.5,259v7M167,199.5h7M170.5,196v7M167,192.5h7M170.5,189v7M167,198.5h7M170.5,195v7M168,200.5h7M171.5,197v7M168,212.5h7M171.5,209v7M168,198.5h7M171.5,195v7M168,199.5h7M171.5,196v7M169,198.5h7M172.5,195v7M169,288.5h7M172.5,285v7M169,199.5h7M172.5,196v7M169,200.5h7M172.5,197v7M170,199.5h7M173.5,196v7M170,285.5h7M173.5,282v7M170,198.5h7M173.5,195v7M170,190.5h7M173.5,187v7M170,197.5h7M173.5,194v7M170,200.5h7M173.5,197v7M171,198.5h7M174.5,195v7M171,270.5h7M174.5,267v7M171,200.5h7M174.5,197v7M171,203.5h7M174.5,200v7M171,199.5h7M174.5,196v7M171,197.5h7M174.5,194v7M172,198.5h7M175.5,195v7M172,200.5h7M175.5,197v7M172,202.5h7M175.5,199v7M172,197.5h7M175.5,194v7M172,199.5h7M175.5,196v7M173,197.5h7M176.5,194v7M173,198.5h7M176.5,195v7M173,199.5h7M176.5,196v7M174,200.5h7M177.5,197v7M174,245.5h7M177.5,242v7M174,198.5h7M177.5,195v7M174,197.5h7M177.5,194v7M174,205.5h7M177.5,202v7M175,198.5h7M178.5,195v7M175,261.5h7M178.5,258v7M175,321.5h7M178.5,318v7M175,200.5h7M178.5,197v7M175,197.5h7M178.5,194v7M175,194.5h7M178.5,191v7M176,200.5h7M179.5,197v7M176,199.5h7M179.5,196v7M176,197.5h7M179.5,194v7M176,198.5h7M179.5,195v7M177,200.5h7M180.5,197v7M177,188.5h7M180.5,185v7M177,198.5h7M180.5,195v7M177,199.5h7M180.5,196v7M177,193.5h7M180.5,190v7M178,197.5h7M181.5,194v7M178,261.5h7M181.5,258v7M178,198.5h7M181.5,195v7M178,199.5h7M181.5,196v7M179,198.5h7M182.5,195v7M179,320.5h7M182.5,317v7M179,197.5h7M182.5,194v7M179,200.5h7M182.5,197v7M180,197.5h7M183.5,194v7M180,199.5h7M183.5,196v7M180,198.5h7M183.5,195v7M181,200.5h7M184.5,197v7M181,199.5h7M184.5,196v7M181,203.5h7M184.5,200v7M181,197.5h7M184.5,194v7M181,198.5h7M184.5,195v7M182,192.5h7M185.5,189v7M182,204.5h7M185.5,201v7M182,197.5h7M185.5,194v7M182,198.5h7M185.5,195v7M183,199.5h7M186.5,196v7M183,278.5h7M186.5,275v7M183,197.5h7M186.5,194v7M183,198.5h7M186.5,195v7M184,196.5h7M187.5,193v7M184,199.5h7M187.5,196v7M184,198.5h7M187.5,195v7M185,197.5h7M188.5,194v7M185,196.5h7M188.5,193v7M185,198.5h7M188.5,195v7M185,199.5h7M188.5,196v7M186,199.5h7M189.5,196v7M186,197.5h7M189.5,194v7M186,196.5h7M189.5,193v7M187,198.5h7M190.5,195v7M187,206.5h7M190.5,203v7M187,202.5h7M190.5,199v7M187,190.5h7M190.5,187v7M187,197.5h7M190.5,194v7M187,199.5h7M190.5,196v7M188,198.5h7M191.5,195v7M188,199.5h7M191.5,196v7M189,198.5h7M192.5,195v7M189,199.5h7M192.5,196v7M189,200.5h7M192.5,197v7M189,197.5h7M192.5,194v7M190,199.5h7M193.5,196v7M190,198.5h7M193.5,195v7M190,200.5h7M193.5,197v7M191,198.5h7M194.5,195v7M191,197.5h7M194.5,194v7M191,200.5h7M194.5,197v7M191,199.5h7M194.5,196v7M192,199.5h7M195.5,196v7M192,198.5h7M195.5,195v7M192,196.5h7M195.5,193v7M192,201.5h7M195.5,198v7M193,199.5h7M196.5,196v7M193,197.5h7M196.5,194v7M193,198.5h7M196.5,195v7M193,196.5h7M196.5,193v7M194,197.5h7M197.5,194v7M194,219.5h7M197.5,216v7M194,284.5h7M197.5,281v7M194,196.5h7M197.5,193v7M194,188.5h7M197.5,185v7M195,196.5h7M198.5,193v7M195,198.5h7M198.5,195v7M195,197.5h7M198.5,194v7M196,199.5h7M199.5,196v7M196,197.5h7M199.5,194v7M197,192.5h7M200.5,189v7M197,196.5h7M200.5,193v7M197,188.5h7M200.5,185v7M197,193.5h7M200.5,190v7M198,190.5h7M201.5,187v7M198,178.5h7M201.5,175v7M198,188.5h7M201.5,185v7M198,182.5h7M201.5,179v7M198,192.5h7M201.5,189v7M198,177.5h7M201.5,174v7M198,191.5h7M201.5,188v7M198,200.5h7M201.5,197v7M199,190.5h7M202.5,187v7M199,214.5h7M202.5,211v7M199,191.5h7M202.5,188v7M199,184.5h7M202.5,181v7M199,188.5h7M202.5,185v7M199,196.5h7M202.5,193v7M199,195.5h7M202.5,192v7M200,195.5h7M203.5,192v7M200,194.5h7M203.5,191v7M200,196.5h7M203.5,193v7M200,192.5h7M203.5,189v7M201,188.5h7M204.5,185v7M201,190.5h7M204.5,187v7M201,195.5h7M204.5,192v7M201,191.5h7M204.5,188v7M202,188.5h7M205.5,185v7M202,201.5h7M205.5,198v7M202,192.5h7M205.5,189v7M202,196.5h7M205.5,193v7M202,189.5h7M205.5,186v7M203,196.5h7M206.5,193v7M203,210.5h7M206.5,207v7M203,189.5h7M206.5,186v7M203,191.5h7M206.5,188v7M204,193.5h7M207.5,190v7M204,275.5h7M207.5,272v7M204,195.5h7M207.5,192v7M204,180.5h7M207.5,177v7M204,198.5h7M207.5,195v7M204,190.5h7M207.5,187v7M205,189.5h7M208.5,186v7M205,252.5h7M208.5,249v7M205,196.5h7M208.5,193v7M205,182.5h7M208.5,179v7M205,188.5h7M208.5,185v7M205,190.5h7M208.5,187v7M206,190.5h7M209.5,187v7M206,195.5h7M209.5,192v7M206,193.5h7M209.5,190v7M207,194.5h7M210.5,191v7M207,193.5h7M210.5,190v7M207,196.5h7M210.5,193v7M207,192.5h7M210.5,189v7M207,188.5h7M210.5,185v7M208,190.5h7M211.5,187v7M208,195.5h7M211.5,192v7M208,192.5h7M211.5,189v7M209,196.5h7M212.5,193v7M209,208.5h7M212.5,205v7M209,188.5h7M212.5,185v7M209,194.5h7M212.5,191v7M209,189.5h7M212.5,186v7M210,193.5h7M213.5,190v7M210,192.5h7M213.5,189v7M210,195.5h7M213.5,192v7M211,189.5h7M214.5,186v7M211,190.5h7M214.5,187v7M211,194.5h7M214.5,191v7M211,195.5h7M214.5,192v7M212,192.5h7M215.5,189v7M212,232.5h7M215.5,229v7M212,193.5h7M215.5,190v7M212,188.5h7M215.5,185v7M212,194.5h7M215.5,191v7M212,195.5h7M215.5,192v7M213,189.5h7M216.5,186v7M213,272.5h7M216.5,269v7M213,199.5h7M216.5,196v7M213,191.5h7M216.5,188v7M213,195.5h7M216.5,192v7M213,196.5h7M216.5,193v7M214,192.5h7M217.5,189v7M214,180.5h7M217.5,177v7M214,190.5h7M217.5,187v7M214,199.5h7M217.5,196v7M215,193.5h7M218.5,190v7M215,268.5h7M218.5,265v7M215,195.5h7M218.5,192v7M215,180.5h7M218.5,177v7M215,190.5h7M218.5,187v7M215,176.5h7M218.5,173v7M215,194.5h7M218.5,191v7M216,199.5h7M219.5,196v7M216,262.5h7M219.5,259v7M216,189.5h7M219.5,186v7M216,180.5h7M219.5,177v7M216,188.5h7M219.5,185v7M216,194.5h7M219.5,191v7M217,194.5h7M220.5,191v7M217,198.5h7M220.5,195v7M217,189.5h7M220.5,186v7M217,190.5h7M220.5,187v7M217,188.5h7M220.5,185v7M218,201.5h7M221.5,198v7M218,194.5h7M221.5,191v7M218,190.5h7M221.5,187v7M218,196.5h7M221.5,193v7M219,191.5h7M222.5,188v7M219,278.5h7M222.5,275v7M219,193.5h7M222.5,190v7M219,199.5h7M222.5,196v7M219,188.5h7M222.5,185v7M219,194.5h7M222.5,191v7M220,193.5h7M223.5,190v7M220,394.5h7M223.5,391v7M220,192.5h7M223.5,189v7M220,195.5h7M223.5,192v7M220,191.5h7M223.5,188v7M221,192.5h7M224.5,189v7M221,189.5h7M224.5,186v7M221,194.5h7M224.5,191v7M222,189.5h7M225.5,186v7M222,210.5h7M225.5,207v7M222,188.5h7M225.5,185v7M222,271.5h7M225.5,268v7M222,191.5h7M225.5,188v7M222,190.5h7M225.5,187v7M223,196.5h7M226.5,193v7M223,190.5h7M226.5,187v7M223,189.5h7M226.5,186v7M223,191.5h7M226.5,188v7M223,194.5h7M226.5,191v7M224,188.5h7M227.5,185v7M224,191.5h7M227.5,188v7M224,195.5h7M227.5,192v7M224,194.5h7M227.5,191v7M225,190.5h7M228.5,187v7M225,266.5h7M228.5,263v7M225,198.5h7M228.5,195v7M225,188.5h7M228.5,185v7M225,191.5h7M228.5,188v7M225,189.5h7M228.5,186v7M226,190.5h7M229.5,187v7M226,193.5h7M229.5,190v7M226,189.5h7M229.5,186v7M226,194.5h7M229.5,191v7M226,191.5h7M229.5,188v7M227,190.5h7M230.5,187v7M227,258.5h7M230.5,255v7M227,191.5h7M230.5,188v7M227,188.5h7M230.5,185v7M227,200.5h7M230.5,197v7M227,195.5h7M230.5,192v7M228,190.5h7M231.5,187v7M228,212.5h7M231.5,209v7M228,196.5h7M231.5,193v7M228,194.5h7M231.5,191v7M229,188.5h7M232.5,185v7M229,191.5h7M232.5,188v7M229,199.5h7M232.5,196v7M229,192.5h7M232.5,189v7M229,189.5h7M232.5,186v7M230,192.5h7M233.5,189v7M230,193.5h7M233.5,190v7M230,188.5h7M233.5,185v7M230,191.5h7M233.5,188v7M231,192.5h7M234.5,189v7M231,188.5h7M234.5,185v7M231,191.5h7M234.5,188v7M231,199.5h7M234.5,196v7M232,192.5h7M235.5,189v7M232,214.5h7M235.5,211v7M232,190.5h7M235.5,187v7M232,199.5h7M235.5,196v7M232,193.5h7M235.5,190v7M232,194.5h7M235.5,191v7M233,192.5h7M236.5,189v7M233,196.5h7M236.5,193v7M233,193.5h7M236.5,190v7M233,194.5h7M236.5,191v7M234,191.5h7M237.5,188v7M234,230.5h7M237.5,227v7M234,195.5h7M237.5,192v7M234,188.5h7M237.5,185v7M234,192.5h7M237.5,189v7M235,191.5h7M238.5,188v7M235,189.5h7M238.5,186v7M235,190.5h7M238.5,187v7M235,185.5h7M238.5,182v7M236,190.5h7M239.5,187v7M236,275.5h7M239.5,272v7M236,193.5h7M239.5,190v7M236,195.5h7M239.5,192v7M236,191.5h7M239.5,188v7M237,195.5h7M240.5,192v7M237,293.5h7M240.5,290v7M237,194.5h7M240.5,191v7M237,193.5h7M240.5,190v7M238,193.5h7M241.5,190v7M238,190.5h7M241.5,187v7M238,192.5h7M241.5,189v7M238,189.5h7M241.5,186v7M239,189.5h7M242.5,186v7M239,210.5h7M242.5,207v7M239,188.5h7M242.5,185v7M239,194.5h7M242.5,191v7M239,192.5h7M242.5,189v7M240,195.5h7M243.5,192v7M240,188.5h7M243.5,185v7M240,192.5h7M243.5,189v7M240,191.5h7M243.5,188v7M240,190.5h7M243.5,187v7M241,190.5h7M244.5,187v7M241,206.5h7M244.5,203v7M241,194.5h7M244.5,191v7M241,195.5h7M244.5,192v7M241,191.5h7M244.5,188v7M241,193.5h7M244.5,190v7M242,195.5h7M245.5,192v7M242,191.5h7M245.5,188v7M242,190.5h7M245.5,187v7M242,188.5h7M245.5,185v7M242,196.5h7M245.5,193v7M243,189.5h7M246.5,186v7M243,191.5h7M246.5,188v7M243,196.5h7M246.5,193v7M243,200.5h7M246.5,197v7M244,188.5h7M247.5,185v7M244,275.5h7M247.5,272v7M244,194.5h7M247.5,191v7M244,189.5h7M247.5,186v7M244,192.5h7M247.5,189v7M245,396.5h7M248.5,393v7M246,394.5h7M249.5,391v7M246,398.5h7M249.5,395v7M247,394.5h7M250.5,391v7M247,396.5h7M250.5,393v7M248,396.5h7M251.5,393v7M248,394.5h7M251.5,391v7M247,398.5h7M250.5,395v7M249,396.5h7M252.5,393v7M250,402.5h7M253.5,399v7M250,408.5h7M253.5,405v7M250,102.5h7M253.5,99v7M250,96.5h7M253.5,93v7M250,108.5h7M253.5,105v7M250,103.5h7M253.5,100v7M250,107.5h7M253.5,104v7M251,105.5h7M254.5,102v7M251,102.5h7M254.5,99v7M251,100.5h7M254.5,97v7M251,101.5h7M254.5,98v7M252,99.5h7M255.5,96v7M252,96.5h7M255.5,93v7M252,100.5h7M255.5,97v7M252,102.5h7M255.5,99v7M252,104.5h7M255.5,101v7M253,111.5h7M256.5,108v7M253,100.5h7M256.5,97v7M253,102.5h7M256.5,99v7M253,106.5h7M256.5,103v7M253,101.5h7M256.5,98v7M253,110.5h7M256.5,107v7M253,109.5h7M256.5,106v7M254,104.5h7M257.5,101v7M254,113.5h7M257.5,110v7M254,106.5h7M257.5,103v7M254,110.5h7M257.5,107v7M255,110.5h7M258.5,107v7M255,100.5h7M258.5,97v7M255,109.5h7M258.5,106v7M255,106.5h7M258.5,103v7M255,101.5h7M258.5,98v7M255,112.5h7M258.5,109v7M256,108.5h7M259.5,105v7M256,102.5h7M259.5,99v7M256,105.5h7M259.5,102v7M256,98.5h7M259.5,95v7M256,100.5h7M259.5,97v7M256,109.5h7M259.5,106v7M257,108.5h7M260.5,105v7M257,96.5h7M260.5,93v7M257,109.5h7M260.5,106v7M257,101.5h7M260.5,98v7M257,104.5h7M260.5,101v7M258,103.5h7M261.5,100v7M258,102.5h7M261.5,99v7M258,101.5h7M261.5,98v7M258,104.5h7M261.5,101v7M258,109.5h7M261.5,106v7M259,108.5h7M262.5,105v7M259,102.5h7M262.5,99v7M259,104.5h7M262.5,101v7M259,103.5h7M262.5,100v7M260,117.5h7M263.5,114v7M260,115.5h7M263.5,112v7M260,114.5h7M263.5,111v7M260,116.5h7M263.5,113v7M260,111.5h7M263.5,108v7M261,115.5h7M264.5,112v7M261,119.5h7M264.5,116v7M261,118.5h7M264.5,115v7M262,119.5h7M265.5,116v7M262,123.5h7M265.5,120v7M262,116.5h7M265.5,113v7M262,114.5h7M265.5,111v7M262,118.5h7M265.5,115v7M262,115.5h7M265.5,112v7M263,115.5h7M266.5,112v7M263,114.5h7M266.5,111v7M263,116.5h7M266.5,113v7M263,119.5h7M266.5,116v7M264,117.5h7M267.5,114v7M264,118.5h7M267.5,115v7M264,116.5h7M267.5,113v7M265,115.5h7M268.5,112v7M265,117.5h7M268.5,114v7M265,113.5h7M268.5,110v7M265,116.5h7M268.5,113v7M266,114.5h7M269.5,111v7M266,119.5h7M269.5,116v7M266,115.5h7M269.5,112v7M267,119.5h7M270.5,116v7M267,122.5h7M270.5,119v7M267,114.5h7M270.5,111v7M267,117.5h7M270.5,114v7M267,118.5h7M270.5,115v7M267,116.5h7M270.5,113v7M268,113.5h7M271.5,110v7M268,118.5h7M271.5,115v7M268,116.5h7M271.5,113v7M268,114.5h7M271.5,111v7M269,117.5h7M272.5,114v7M269,116.5h7M272.5,113v7M269,118.5h7M272.5,115v7M270,119.5h7M273.5,116v7M270,114.5h7M273.5,111v7M270,113.5h7M273.5,110v7M270,122.5h7M273.5,119v7M270,118.5h7M273.5,115v7M271,114.5h7M274.5,111v7M271,118.5h7M274.5,115v7M271,119.5h7M274.5,116v7M271,117.5h7M274.5,114v7M272,118.5h7M275.5,115v7M272,117.5h7M275.5,114v7M272,113.5h7M275.5,110v7M272,115.5h7M275.5,112v7M272,114.5h7M275.5,111v7M273,117.5h7M276.5,114v7M273,122.5h7M276.5,119v7M273,113.5h7M276.5,110v7M273,115.5h7M276.5,112v7M273,116.5h7M276.5,113v7M274,113.5h7M277.5,110v7M274,117.5h7M277.5,114v7M274,114.5h7M277.5,111v7M274,116.5h7M277.5,113v7M275,117.5h7M278.5,114v7M275,114.5h7M278.5,111v7M275,118.5h7M278.5,115v7M275,116.5h7M278.5,113v7M275,115.5h7M278.5,112v7M276,118.5h7M279.5,115v7M276,117.5h7M279.5,114v7M276,114.5h7M279.5,111v7M276,113.5h7M279.5,110v7M276,115.5h7M279.5,112v7M277,110.5h7M280.5,107v7M277,112.5h7M280.5,109v7M277,118.5h7M280.5,115v7M277,116.5h7M280.5,113v7M278,111.5h7M281.5,108v7M278,128.5h7M281.5,125v7M278,112.5h7M281.5,109v7M278,113.5h7M281.5,110v7M278,117.5h7M281.5,114v7M278,114.5h7M281.5,111v7M279,118.5h7M282.5,115v7M279,113.5h7M282.5,110v7M279,116.5h7M282.5,113v7M279,112.5h7M282.5,109v7M280,122.5h7M283.5,119v7M280,113.5h7M283.5,110v7M280,112.5h7M283.5,109v7M280,115.5h7M283.5,112v7M280,118.5h7M283.5,115v7M281,113.5h7M284.5,110v7M281,124.5h7M284.5,121v7M281,115.5h7M284.5,112v7M281,118.5h7M284.5,115v7M282,118.5h7M285.5,115v7M282,113.5h7M285.5,110v7M282,110.5h7M285.5,107v7M282,115.5h7M285.5,112v7M283,116.5h7M286.5,113v7M283,117.5h7M286.5,114v7M283,113.5h7M286.5,110v7M283,123.5h7M286.5,120v7M284,117.5h7M287.5,114v7M284,121.5h7M287.5,118v7M284,114.5h7M287.5,111v7M284,116.5h7M287.5,113v7M285,114.5h7M288.5,111v7M285,110.5h7M288.5,107v7M285,112.5h7M288.5,109v7M285,111.5h7M288.5,108v7M285,109.5h7M288.5,106v7M286,113.5h7M289.5,110v7M286,122.5h7M289.5,119v7M286,110.5h7M289.5,107v7M286,114.5h7M289.5,111v7M287,115.5h7M290.5,112v7M287,118.5h7M290.5,115v7M287,109.5h7M290.5,106v7M287,117.5h7M290.5,114v7M287,116.5h7M290.5,113v7M288,114.5h7M291.5,111v7M288,175.5h7M291.5,172v7M288,120.5h7M291.5,117v7M288,118.5h7M291.5,115v7M288,117.5h7M291.5,114v7M288,121.5h7M291.5,118v7M289,108.5h7M292.5,105v7M289,132.5h7M292.5,129v7M289,116.5h7M292.5,113v7M289,111.5h7M292.5,108v7M289,115.5h7M292.5,112v7M289,112.5h7M292.5,109v7M290,115.5h7M293.5,112v7M290,150.5h7M293.5,147v7M290,109.5h7M293.5,106v7M290,108.5h7M293.5,105v7M290,110.5h7M293.5,107v7M291,110.5h7M294.5,107v7M291,128.5h7M294.5,125v7M291,121.5h7M294.5,118v7M291,120.5h7M294.5,117v7M291,107.5h7M294.5,104v7M292,109.5h7M295.5,106v7M292,140.5h7M295.5,137v7M292,108.5h7M295.5,105v7M292,100.5h7M295.5,97v7M292,111.5h7M295.5,108v7M292,103.5h7M295.5,100v7M292,106.5h7M295.5,103v7M293,116.5h7M296.5,113v7M293,130.5h7M296.5,127v7M293,112.5h7M296.5,109v7M293,100.5h7M296.5,97v7M293,109.5h7M296.5,106v7M293,102.5h7M296.5,99v7M293,111.5h7M296.5,108v7M294,114.5h7M297.5,111v7M294,130.5h7M297.5,127v7M294,118.5h7M297.5,115v7M294,100.5h7M297.5,97v7M294,108.5h7M297.5,105v7M294,110.5h7M297.5,107v7M295,113.5h7M298.5,110v7M295,134.5h7M298.5,131v7M295,116.5h7M298.5,113v7M295,109.5h7M298.5,106v7M295,115.5h7M298.5,112v7M296,121.5h7M299.5,118v7M296,128.5h7M299.5,125v7M296,120.5h7M299.5,117v7M296,116.5h7M299.5,113v7M296,106.5h7M299.5,103v7M296,114.5h7M299.5,111v7M297,106.5h7M300.5,103v7M297,110.5h7M300.5,107v7M297,116.5h7M300.5,113v7M298,110.5h7M301.5,107v7M298,154.5h7M301.5,151v7M298,109.5h7M301.5,106v7M298,106.5h7M301.5,103v7M298,115.5h7M301.5,112v7M299,112.5h7M302.5,109v7M299,107.5h7M302.5,104v7M299,116.5h7M302.5,113v7M299,110.5h7M302.5,107v7M300,115.5h7M303.5,112v7M300,126.5h7M303.5,123v7M300,106.5h7M303.5,103v7M300,110.5h7M303.5,107v7M300,116.5h7M303.5,113v7M301,113.5h7M304.5,110v7M301,114.5h7M304.5,111v7M301,112.5h7M304.5,109v7M301,109.5h7M304.5,106v7M302,109.5h7M305.5,106v7M302,111.5h7M305.5,108v7M302,112.5h7M305.5,109v7M303,109.5h7M306.5,106v7M303,108.5h7M306.5,105v7M303,114.5h7M306.5,111v7M303,115.5h7M306.5,112v7M304,113.5h7M307.5,110v7M304,126.5h7M307.5,123v7M304,112.5h7M307.5,109v7M304,116.5h7M307.5,113v7M304,111.5h7M307.5,108v7M304,108.5h7M307.5,105v7M305,107.5h7M308.5,104v7M305,128.5h7M308.5,125v7M305,115.5h7M308.5,112v7M305,98.5h7M308.5,95v7M305,120.5h7M308.5,117v7M305,112.5h7M308.5,109v7M306,114.5h7M309.5,111v7M306,100.5h7M309.5,97v7M306,107.5h7M309.5,104v7M306,96.5h7M309.5,93v7M306,108.5h7M309.5,105v7M306,99.5h7M309.5,96v7M306,111.5h7M309.5,108v7M307,112.5h7M310.5,109v7M307,128.5h7M310.5,125v7M307,116.5h7M310.5,113v7M307,98.5h7M310.5,95v7M307,110.5h7M310.5,107v7M307,113.5h7M310.5,110v7M307,115.5h7M310.5,112v7M308,108.5h7M311.5,105v7M308,130.5h7M311.5,127v7M308,106.5h7M311.5,103v7M308,100.5h7M311.5,97v7M308,111.5h7M311.5,108v7M309,109.5h7M312.5,106v7M309,126.5h7M312.5,123v7M309,111.5h7M312.5,108v7M309,107.5h7M312.5,104v7M309,115.5h7M312.5,112v7M310,112.5h7M313.5,109v7M310,116.5h7M313.5,113v7M310,110.5h7M313.5,107v7M310,122.5h7M313.5,119v7M310,115.5h7M313.5,112v7M311,113.5h7M314.5,110v7M311,160.5h7M314.5,157v7M311,115.5h7M314.5,112v7M311,112.5h7M314.5,109v7M311,117.5h7M314.5,114v7M312,117.5h7M315.5,114v7M312,109.5h7M315.5,106v7M312,110.5h7M315.5,107v7M312,111.5h7M315.5,108v7M313,109.5h7M316.5,106v7M313,121.5h7M316.5,118v7M313,115.5h7M316.5,112v7M313,116.5h7M316.5,113v7M314,109.5h7M317.5,106v7M314,124.5h7M317.5,121v7M314,110.5h7M317.5,107v7M314,112.5h7M317.5,109v7M315,109.5h7M318.5,106v7M315,114.5h7M318.5,111v7M315,111.5h7M318.5,108v7M315,115.5h7M318.5,112v7M316,117.5h7M319.5,114v7M316,120.5h7M319.5,117v7M316,115.5h7M319.5,112v7M317,114.5h7M320.5,111v7M317,124.5h7M320.5,121v7M317,109.5h7M320.5,106v7M317,117.5h7M320.5,114v7M317,119.5h7M320.5,116v7M318,119.5h7M321.5,116v7M318,115.5h7M321.5,112v7M318,114.5h7M321.5,111v7M318,116.5h7M321.5,113v7M318,107.5h7M321.5,104v7M319,117.5h7M322.5,114v7M319,112.5h7M322.5,109v7M319,122.5h7M322.5,119v7M319,114.5h7M322.5,111v7M320,112.5h7M323.5,109v7M320,113.5h7M323.5,110v7M320,116.5h7M323.5,113v7M320,110.5h7M323.5,107v7M321,111.5h7M324.5,108v7M321,114.5h7M324.5,111v7M321,113.5h7M324.5,110v7M321,116.5h7M324.5,113v7M322,111.5h7M325.5,108v7M322,130.5h7M325.5,127v7M322,115.5h7M325.5,112v7M322,113.5h7M325.5,110v7M322,110.5h7M325.5,107v7M323,117.5h7M326.5,114v7M323,112.5h7M326.5,109v7M323,110.5h7M326.5,107v7M323,116.5h7M326.5,113v7M324,115.5h7M327.5,112v7M324,132.5h7M327.5,129v7M324,111.5h7M327.5,108v7M324,116.5h7M327.5,113v7M324,120.5h7M327.5,117v7M325,109.5h7M328.5,106v7M325,116.5h7M328.5,113v7M326,114.5h7M329.5,111v7M326,128.5h7M329.5,125v7M326,109.5h7M329.5,106v7M326,112.5h7M329.5,109v7M327,109.5h7M330.5,106v7M327,116.5h7M330.5,113v7M327,108.5h7M330.5,105v7M328,114.5h7M331.5,111v7M328,159.5h7M331.5,156v7M328,115.5h7M331.5,112v7M328,110.5h7M331.5,107v7M329,116.5h7M332.5,113v7M329,97.5h7M332.5,94v7M329,114.5h7M332.5,111v7M329,113.5h7M332.5,110v7M329,112.5h7M332.5,109v7M329,118.5h7M332.5,115v7M330,115.5h7M333.5,112v7M330,114.5h7M333.5,111v7M330,118.5h7M333.5,115v7M330,110.5h7M333.5,107v7M330,113.5h7M333.5,110v7M331,120.5h7M334.5,117v7M331,116.5h7M334.5,113v7M331,110.5h7M334.5,107v7M331,117.5h7M334.5,114v7M331,115.5h7M334.5,112v7M332,111.5h7M335.5,108v7M332,121.5h7M335.5,118v7M332,113.5h7M335.5,110v7M332,115.5h7M335.5,112v7M333,113.5h7M336.5,110v7M333,130.5h7M336.5,127v7M333,115.5h7M336.5,112v7M333,112.5h7M336.5,109v7M334,117.5h7M337.5,114v7M334,111.5h7M337.5,108v7M334,118.5h7M337.5,115v7M334,112.5h7M337.5,109v7M335,111.5h7M338.5,108v7M335,134.5h7M338.5,131v7M335,112.5h7M338.5,109v7M335,116.5h7M338.5,113v7M335,115.5h7M338.5,112v7M335,118.5h7M338.5,115v7M336,113.5h7M339.5,110v7M336,108.5h7M339.5,105v7M336,115.5h7M339.5,112v7M336,114.5h7M339.5,111v7M337,116.5h7M340.5,113v7M337,166.5h7M340.5,163v7M337,112.5h7M340.5,109v7M337,111.5h7M340.5,108v7M337,117.5h7M340.5,114v7M338,118.5h7M341.5,115v7M338,162.5h7M341.5,159v7M338,114.5h7M341.5,111v7M338,117.5h7M341.5,114v7M339,113.5h7M342.5,110v7M339,134.5h7M342.5,131v7M339,112.5h7M342.5,109v7M339,117.5h7M342.5,114v7M339,118.5h7M342.5,115v7M340,117.5h7M343.5,114v7M340,112.5h7M343.5,109v7M340,113.5h7M343.5,110v7M340,118.5h7M343.5,115v7M340,122.5h7M343.5,119v7M341,117.5h7M344.5,114v7M341,118.5h7M344.5,115v7M341,116.5h7M344.5,113v7M342,113.5h7M345.5,110v7M342,116.5h7M345.5,113v7M342,118.5h7M345.5,115v7M342,112.5h7M345.5,109v7M342,111.5h7M345.5,108v7M343,117.5h7M346.5,114v7M343,172.5h7M346.5,169v7M343,118.5h7M346.5,115v7M343,115.5h7M346.5,112v7M343,114.5h7M346.5,111v7M344,120.5h7M347.5,117v7M344,113.5h7M347.5,110v7M344,117.5h7M347.5,114v7M344,115.5h7M347.5,112v7M345,116.5h7M348.5,113v7M345,128.5h7M348.5,125v7M345,118.5h7M348.5,115v7M345,114.5h7M348.5,111v7M346,117.5h7M349.5,114v7M346,127.5h7M349.5,124v7M346,114.5h7M349.5,111v7M346,115.5h7M349.5,112v7M346,124.5h7M349.5,121v7M347,114.5h7M350.5,111v7M347,116.5h7M350.5,113v7M347,112.5h7M350.5,109v7M348,117.5h7M351.5,114v7M348,115.5h7M351.5,112v7M348,116.5h7M351.5,113v7M348,113.5h7M351.5,110v7M349,116.5h7M352.5,113v7M349,119.5h7M352.5,116v7M349,114.5h7M352.5,111v7M350,113.5h7M353.5,110v7M350,116.5h7M353.5,113v7M350,118.5h7M353.5,115v7M350,115.5h7M353.5,112v7M350,117.5h7M353.5,114v7M351,116.5h7M354.5,113v7M351,114.5h7M354.5,111v7M351,119.5h7M354.5,116v7M351,113.5h7M354.5,110v7M351,115.5h7M354.5,112v7M352,116.5h7M355.5,113v7M352,134.5h7M355.5,131v7M352,155.5h7M355.5,152v7M352,118.5h7M355.5,115v7M352,117.5h7M355.5,114v7M353,123.5h7M356.5,120v7M353,114.5h7M356.5,111v7M353,113.5h7M356.5,110v7M353,116.5h7M356.5,113v7M354,119.5h7M357.5,116v7M354,117.5h7M357.5,114v7M354,115.5h7M357.5,112v7M355,116.5h7M358.5,113v7M355,119.5h7M358.5,116v7M355,118.5h7M358.5,115v7M356,109.5h7M359.5,106v7M356,110.5h7M359.5,107v7M356,114.5h7M359.5,111v7M356,111.5h7M359.5,108v7M357,115.5h7M360.5,112v7M357,149.5h7M360.5,146v7M357,114.5h7M360.5,111v7M357,113.5h7M360.5,110v7M357,109.5h7M360.5,106v7M357,116.5h7M360.5,113v7M358,113.5h7M361.5,110v7M358,154.5h7M361.5,151v7M358,114.5h7M361.5,111v7M358,116.5h7M361.5,113v7M359,119.5h7M362.5,116v7M359,134.5h7M362.5,131v7M359,108.5h7M362.5,105v7M359,116.5h7M362.5,113v7M360,120.5h7M363.5,117v7M360,115.5h7M363.5,112v7M360,112.5h7M363.5,109v7M360,114.5h7M363.5,111v7M361,113.5h7M364.5,110v7M361,111.5h7M364.5,108v7M361,107.5h7M364.5,104v7M361,109.5h7M364.5,106v7M361,116.5h7M364.5,113v7M362,112.5h7M365.5,109v7M362,111.5h7M365.5,108v7M362,113.5h7M365.5,110v7M362,114.5h7M365.5,111v7M363,107.5h7M366.5,104v7M363,126.5h7M366.5,123v7M363,111.5h7M366.5,108v7M363,116.5h7M366.5,113v7M363,114.5h7M366.5,111v7M364,109.5h7M367.5,106v7M364,113.5h7M367.5,110v7M364,110.5h7M367.5,107v7M364,106.5h7M367.5,103v7M365,113.5h7M368.5,110v7M365,126.5h7M368.5,123v7M365,109.5h7M368.5,106v7M365,96.5h7M368.5,93v7M365,116.5h7M368.5,113v7M365,107.5h7M368.5,104v7M365,106.5h7M368.5,103v7M366,114.5h7M369.5,111v7M366,94.5h7M369.5,91v7M366,111.5h7M369.5,108v7M366,98.5h7M369.5,95v7M366,106.5h7M369.5,103v7M366,95.5h7M369.5,92v7M366,115.5h7M369.5,112v7M366,113.5h7M369.5,110v7M367,109.5h7M370.5,106v7M367,124.5h7M370.5,121v7M367,108.5h7M370.5,105v7M367,114.5h7M370.5,111v7M367,112.5h7M370.5,109v7M368,108.5h7M371.5,105v7M368,112.5h7M371.5,109v7M368,116.5h7M371.5,113v7M368,110.5h7M371.5,107v7M368,115.5h7M371.5,112v7M369,113.5h7M372.5,110v7M369,109.5h7M372.5,106v7M369,108.5h7M372.5,105v7M369,115.5h7M372.5,112v7M369,110.5h7M372.5,107v7M370,113.5h7M373.5,110v7M370,120.5h7M373.5,117v7M370,115.5h7M373.5,112v7M370,112.5h7M373.5,109v7M370,106.5h7M373.5,103v7M371,116.5h7M374.5,113v7M371,115.5h7M374.5,112v7M371,106.5h7M374.5,103v7M371,120.5h7M374.5,117v7M371,108.5h7M374.5,105v7M372,113.5h7M375.5,110v7M372,110.5h7M375.5,107v7M372,111.5h7M375.5,108v7M372,109.5h7M375.5,106v7M372,108.5h7M375.5,105v7M373,104.5h7M376.5,101v7M373,145.5h7M376.5,142v7M373,112.5h7M376.5,109v7M373,106.5h7M376.5,103v7M373,110.5h7M376.5,107v7M373,108.5h7M376.5,105v7M374,113.5h7M377.5,110v7M374,112.5h7M377.5,109v7M374,110.5h7M377.5,107v7M374,109.5h7M377.5,106v7M375,110.5h7M378.5,107v7M375,115.5h7M378.5,112v7M375,104.5h7M378.5,101v7M375,112.5h7M378.5,109v7M376,103.5h7M379.5,100v7M376,111.5h7M379.5,108v7M376,109.5h7M379.5,106v7M376,106.5h7M379.5,103v7M376,107.5h7M379.5,104v7M377,109.5h7M380.5,106v7M377,134.5h7M380.5,131v7M377,107.5h7M380.5,104v7M377,100.5h7M380.5,97v7M377,104.5h7M380.5,101v7M377,101.5h7M380.5,98v7M378,100.5h7M381.5,97v7M378,93.5h7M381.5,90v7M378,95.5h7M381.5,92v7M378,99.5h7M381.5,96v7M378,96.5h7M381.5,93v7M379,105.5h7M382.5,102v7M379,103.5h7M382.5,100v7M379,101.5h7M382.5,98v7M379,100.5h7M382.5,97v7M379,102.5h7M382.5,99v7M380,99.5h7M383.5,96v7M380,94.5h7M383.5,91v7M380,98.5h7M383.5,95v7M380,88.5h7M383.5,85v7M380,101.5h7M383.5,98v7M380,107.5h7M383.5,104v7M380,97.5h7M383.5,94v7M381,103.5h7M384.5,100v7M381,105.5h7M384.5,102v7M381,96.5h7M384.5,93v7M381,97.5h7M384.5,94v7M381,102.5h7M384.5,99v7M382,95.5h7M385.5,92v7M382,86.5h7M385.5,83v7M382,110.5h7M385.5,107v7M382,97.5h7M385.5,94v7M382,107.5h7M385.5,104v7M382,105.5h7M385.5,102v7M383,97.5h7M386.5,94v7M383,82.5h7M386.5,79v7M383,86.5h7M386.5,83v7M383,101.5h7M386.5,98v7M383,85.5h7M386.5,82v7M383,95.5h7M386.5,92v7M383,99.5h7M386.5,96v7M384,97.5h7M387.5,94v7M384,84.5h7M387.5,81v7M384,105.5h7M387.5,102v7M384,98.5h7M387.5,95v7M384,102.5h7M387.5,99v7M385,97.5h7M388.5,94v7M385,86.5h7M388.5,83v7M385,98.5h7M388.5,95v7M385,102.5h7M388.5,99v7M385,99.5h7M388.5,96v7M386,100.5h7M389.5,97v7M386,119.5h7M389.5,116v7M386,108.5h7M389.5,105v7M386,94.5h7M389.5,91v7M386,86.5h7M389.5,83v7M386,107.5h7M389.5,104v7M386,99.5h7M389.5,96v7M387,96.5h7M390.5,93v7M387,105.5h7M390.5,102v7M387,100.5h7M390.5,97v7M387,103.5h7M390.5,100v7M387,97.5h7M390.5,94v7M388,102.5h7M391.5,99v7M388,104.5h7M391.5,101v7M388,107.5h7M391.5,104v7M388,103.5h7M391.5,100v7M389,102.5h7M392.5,99v7M389,90.5h7M392.5,87v7M389,110.5h7M392.5,107v7M389,96.5h7M392.5,93v7M389,107.5h7M392.5,104v7M389,99.5h7M392.5,96v7M390,95.5h7M393.5,92v7M390,92.5h7M393.5,89v7M390,101.5h7M393.5,98v7M390,98.5h7M393.5,95v7M390,96.5h7M393.5,93v7M391,102.5h7M394.5,99v7M391,90.5h7M394.5,87v7M391,96.5h7M394.5,93v7M391,99.5h7M394.5,96v7M391,101.5h7M394.5,98v7M392,95.5h7M395.5,92v7M392,97.5h7M395.5,94v7M392,101.5h7M395.5,98v7M392,100.5h7M395.5,97v7M393,96.5h7M396.5,93v7M393,94.5h7M396.5,91v7M393,102.5h7M396.5,99v7M393,95.5h7M396.5,92v7M393,98.5h7M396.5,95v7M394,103.5h7M397.5,100v7M394,126.5h7M397.5,123v7M394,105.5h7M397.5,102v7M394,99.5h7M397.5,96v7M395,104.5h7M398.5,101v7M395,101.5h7M398.5,98v7M396,116.5h7M399.5,113v7M396,111.5h7M399.5,108v7M396,109.5h7M399.5,106v7M396,108.5h7M399.5,105v7M396,110.5h7M399.5,107v7M397,113.5h7M400.5,110v7M397,163.5h7M400.5,160v7M397,112.5h7M400.5,109v7M397,116.5h7M400.5,113v7M397,111.5h7M400.5,108v7M397,109.5h7M400.5,106v7M398,109.5h7M401.5,106v7M398,111.5h7M401.5,108v7M398,106.5h7M401.5,103v7M398,116.5h7M401.5,113v7M399,108.5h7M402.5,105v7M399,110.5h7M402.5,107v7M399,114.5h7M402.5,111v7M399,116.5h7M402.5,113v7M400,110.5h7M403.5,107v7M400,112.5h7M403.5,109v7M400,109.5h7M403.5,106v7M400,116.5h7M403.5,113v7M400,113.5h7M403.5,110v7M401,108.5h7M404.5,105v7M401,109.5h7M404.5,106v7M401,113.5h7M404.5,110v7M401,116.5h7M404.5,113v7M401,118.5h7M404.5,115v7M402,119.5h7M405.5,116v7M402,122.5h7M405.5,119v7M402,114.5h7M405.5,111v7M402,115.5h7M405.5,112v7M402,109.5h7M405.5,106v7M402,108.5h7M405.5,105v7M403,108.5h7M406.5,105v7M403,109.5h7M406.5,106v7M403,115.5h7M406.5,112v7M404,114.5h7M407.5,111v7M404,112.5h7M407.5,109v7M404,115.5h7M407.5,112v7M404,116.5h7M407.5,113v7M405,112.5h7M408.5,109v7M405,105.5h7M408.5,102v7M405,113.5h7M408.5,110v7M405,118.5h7M408.5,115v7M406,114.5h7M409.5,111v7M406,115.5h7M409.5,112v7M406,112.5h7M409.5,109v7M406,116.5h7M409.5,113v7M407,111.5h7M410.5,108v7M407,108.5h7M410.5,105v7M407,109.5h7M410.5,106v7M408,111.5h7M411.5,108v7M408,130.5h7M411.5,127v7M408,114.5h7M411.5,111v7M408,110.5h7M411.5,107v7M408,115.5h7M411.5,112v7M408,108.5h7M411.5,105v7M409,112.5h7M412.5,109v7M409,109.5h7M412.5,106v7M409,114.5h7M412.5,111v7M410,109.5h7M413.5,106v7M410,112.5h7M413.5,109v7M410,116.5h7M413.5,113v7M410,113.5h7M413.5,110v7M411,118.5h7M414.5,115v7M411,109.5h7M414.5,106v7M411,114.5h7M414.5,111v7M411,119.5h7M414.5,116v7M411,116.5h7M414.5,113v7M412,121.5h7M415.5,118v7M412,117.5h7M415.5,114v7M412,118.5h7M415.5,115v7M412,119.5h7M415.5,116v7M412,125.5h7M415.5,122v7M413,118.5h7M416.5,115v7M413,122.5h7M416.5,119v7M413,113.5h7M416.5,110v7M413,120.5h7M416.5,117v7M414,116.5h7M417.5,113v7M414,120.5h7M417.5,117v7M414,112.5h7M417.5,109v7M414,113.5h7M417.5,110v7M414,117.5h7M417.5,114v7M415,116.5h7M418.5,113v7M415,130.5h7M418.5,127v7M415,113.5h7M418.5,110v7M415,119.5h7M418.5,116v7M415,120.5h7M418.5,117v7M416,119.5h7M419.5,116v7M416,124.5h7M419.5,121v7M416,120.5h7M419.5,117v7M416,117.5h7M419.5,114v7M417,116.5h7M420.5,113v7M417,122.5h7M420.5,119v7M417,123.5h7M420.5,120v7M417,120.5h7M420.5,117v7M418,123.5h7M421.5,120v7M418,116.5h7M421.5,113v7M418,113.5h7M421.5,110v7M418,120.5h7M421.5,117v7M419,122.5h7M422.5,119v7M419,132.5h7M422.5,129v7M419,124.5h7M422.5,121v7M419,118.5h7M422.5,115v7M419,116.5h7M422.5,113v7M420,112.5h7M423.5,109v7M420,123.5h7M423.5,120v7M420,115.5h7M423.5,112v7M420,113.5h7M423.5,110v7M420,121.5h7M423.5,118v7M421,130.5h7M424.5,127v7M421,117.5h7M424.5,114v7M421,129.5h7M424.5,126v7M421,126.5h7M424.5,123v7M422,121.5h7M425.5,118v7M422,127.5h7M425.5,124v7M422,124.5h7M425.5,121v7M422,114.5h7M425.5,111v7M422,115.5h7M425.5,112v7M423,121.5h7M426.5,118v7M423,130.5h7M426.5,127v7M423,127.5h7M426.5,124v7M423,132.5h7M426.5,129v7M423,122.5h7M426.5,119v7M423,124.5h7M426.5,121v7M423,115.5h7M426.5,112v7M424,100.5h7M427.5,97v7M424,140.5h7M427.5,137v7M424,102.5h7M427.5,99v7M424,101.5h7M427.5,98v7M424,103.5h7M427.5,100v7M424,99.5h7M427.5,96v7M425,106.5h7M428.5,103v7M425,94.5h7M428.5,91v7M425,100.5h7M428.5,97v7M425,101.5h7M428.5,98v7M425,99.5h7M428.5,96v7M426,103.5h7M429.5,100v7M426,95.5h7M429.5,92v7M426,104.5h7M429.5,101v7M426,99.5h7M429.5,96v7M426,102.5h7M429.5,99v7M427,100.5h7M430.5,97v7M427,112.5h7M430.5,109v7M427,99.5h7M430.5,96v7M427,94.5h7M430.5,91v7M427,98.5h7M430.5,95v7M428,102.5h7M431.5,99v7M428,91.5h7M431.5,88v7M428,94.5h7M431.5,91v7M428,100.5h7M431.5,97v7M428,103.5h7M431.5,100v7M428,99.5h7M431.5,96v7M429,103.5h7M432.5,100v7M429,92.5h7M432.5,89v7M429,99.5h7M432.5,96v7M429,104.5h7M432.5,101v7M429,101.5h7M432.5,98v7M430,100.5h7M433.5,97v7M430,102.5h7M433.5,99v7M430,103.5h7M433.5,100v7M430,101.5h7M433.5,98v7M431,102.5h7M434.5,99v7M431,120.5h7M434.5,117v7M431,100.5h7M434.5,97v7M431,94.5h7M434.5,91v7M431,99.5h7M434.5,96v7M431,107.5h7M434.5,104v7M431,98.5h7M434.5,95v7M432,100.5h7M435.5,97v7M432,103.5h7M435.5,100v7M432,107.5h7M435.5,104v7M432,102.5h7M435.5,99v7M433,100.5h7M436.5,97v7M433,98.5h7M436.5,95v7M433,109.5h7M436.5,106v7M433,103.5h7M436.5,100v7M434,100.5h7M437.5,97v7M434,110.5h7M437.5,107v7M434,103.5h7M437.5,100v7M434,101.5h7M437.5,98v7M434,99.5h7M437.5,96v7M435,104.5h7M438.5,101v7M435,99.5h7M438.5,96v7M435,98.5h7M438.5,95v7M436,101.5h7M439.5,98v7M436,102.5h7M439.5,99v7M436,104.5h7M439.5,101v7M436,107.5h7M439.5,104v7M437,100.5h7M440.5,97v7M437,102.5h7M440.5,99v7M437,98.5h7M440.5,95v7M437,103.5h7M440.5,100v7M437,99.5h7M440.5,96v7M438,98.5h7M441.5,95v7M438,110.5h7M441.5,107v7M438,101.5h7M441.5,98v7M438,100.5h7M441.5,97v7M439,100.5h7M442.5,97v7M439,98.5h7M442.5,95v7M440,100.5h7M443.5,97v7M440,94.5h7M443.5,91v7M440,101.5h7M443.5,98v7M440,106.5h7M443.5,103v7M441,101.5h7M444.5,98v7M441,103.5h7M444.5,100v7M441,102.5h7M444.5,99v7M442,103.5h7M445.5,100v7M442,92.5h7M445.5,89v7M442,98.5h7M445.5,95v7M442,102.5h7M445.5,99v7M442,104.5h7M445.5,101v7M442,107.5h7M445.5,104v7M443,104.5h7M446.5,101v7M443,129.5h7M446.5,126v7M443,101.5h7M446.5,98v7M443,94.5h7M446.5,91v7M443,103.5h7M446.5,100v7M444,97.5h7M447.5,94v7M444,134.5h7M447.5,131v7M444,105.5h7M447.5,102v7M444,100.5h7M447.5,97v7M444,103.5h7M447.5,100v7M444,99.5h7M447.5,96v7M445,102.5h7M448.5,99v7M445,108.5h7M448.5,105v7M445,99.5h7M448.5,96v7M445,105.5h7M448.5,102v7M446,103.5h7M449.5,100v7M446,101.5h7M449.5,98v7M446,102.5h7M449.5,99v7M446,105.5h7M449.5,102v7M447,104.5h7M450.5,101v7M447,187.5h7M450.5,184v7M447,100.5h7M450.5,97v7M447,141.5h7M450.5,138v7M447,103.5h7M450.5,100v7M447,101.5h7M450.5,98v7M448,107.5h7M451.5,104v7M448,104.5h7M451.5,101v7M448,99.5h7M451.5,96v7M448,100.5h7M451.5,97v7M448,105.5h7M451.5,102v7M449,99.5h7M452.5,96v7M449,105.5h7M452.5,102v7M449,102.5h7M452.5,99v7M449,104.5h7M452.5,101v7M449,100.5h7M452.5,97v7M450,103.5h7M453.5,100v7M450,155.5h7M453.5,152v7M450,105.5h7M453.5,102v7M450,100.5h7M453.5,97v7M451,104.5h7M454.5,101v7M451,134.5h7M454.5,131v7M451,114.5h7M454.5,111v7M451,99.5h7M454.5,96v7M452,109.5h7M455.5,106v7M452,130.5h7M455.5,127v7M452,105.5h7M455.5,102v7M452,102.5h7M455.5,99v7M452,103.5h7M455.5,100v7M452,101.5h7M455.5,98v7M453,99.5h7M456.5,96v7M453,104.5h7M456.5,101v7M453,102.5h7M456.5,99v7M454,99.5h7M457.5,96v7M454,100.5h7M457.5,97v7M454,103.5h7M457.5,100v7M455,110.5h7M458.5,107v7M455,112.5h7M458.5,109v7M455,104.5h7M458.5,101v7M455,101.5h7M458.5,98v7M455,99.5h7M458.5,96v7M456,105.5h7M459.5,102v7M456,103.5h7M459.5,100v7M456,99.5h7M459.5,96v7M457,103.5h7M460.5,100v7M457,99.5h7M460.5,96v7M458,104.5h7M461.5,101v7M458,102.5h7M461.5,99v7M458,101.5h7M461.5,98v7M458,97.5h7M461.5,94v7M458,105.5h7M461.5,102v7M459,100.5h7M462.5,97v7M459,132.5h7M462.5,129v7M459,99.5h7M462.5,96v7M459,101.5h7M462.5,98v7M459,103.5h7M462.5,100v7M459,104.5h7M462.5,101v7M460,105.5h7M463.5,102v7M460,102.5h7M463.5,99v7M460,99.5h7M463.5,96v7M461,100.5h7M464.5,97v7M461,99.5h7M464.5,96v7M461,104.5h7M464.5,101v7M461,103.5h7M464.5,100v7M462,104.5h7M465.5,101v7M462,118.5h7M465.5,115v7M462,107.5h7M465.5,104v7M462,102.5h7M465.5,99v7M463,103.5h7M466.5,100v7M463,105.5h7M466.5,102v7M463,100.5h7M466.5,97v7M463,101.5h7M466.5,98v7M464,100.5h7M467.5,97v7M464,103.5h7M467.5,100v7M464,105.5h7M467.5,102v7M465,104.5h7M468.5,101v7M465,103.5h7M468.5,100v7M465,99.5h7M468.5,96v7M465,102.5h7M468.5,99v7M466,95.5h7M469.5,92v7M466,110.5h7M469.5,107v7M466,102.5h7M469.5,99v7M466,99.5h7M469.5,96v7M467,105.5h7M470.5,102v7M467,99.5h7M470.5,96v7M467,103.5h7M470.5,100v7M467,104.5h7M470.5,101v7M467,101.5h7M470.5,98v7M468,100.5h7M471.5,97v7M468,105.5h7M471.5,102v7M468,104.5h7M471.5,101v7M468,95.5h7M471.5,92v7M469,105.5h7M472.5,102v7M469,99.5h7M472.5,96v7M469,103.5h7M472.5,100v7M469,101.5h7M472.5,98v7M470,100.5h7M473.5,97v7M470,114.5h7M473.5,111v7M470,99.5h7M473.5,96v7M470,101.5h7M473.5,98v7M470,105.5h7M473.5,102v7M470,104.5h7M473.5,101v7M471,99.5h7M474.5,96v7M471,109.5h7M474.5,106v7M471,100.5h7M474.5,97v7M471,104.5h7M474.5,101v7M472,100.5h7M475.5,97v7M472,105.5h7M475.5,102v7M472,99.5h7M475.5,96v7M473,101.5h7M476.5,98v7M473,110.5h7M476.5,107v7M473,99.5h7M476.5,96v7M473,100.5h7M476.5,97v7M473,103.5h7M476.5,100v7M474,99.5h7M477.5,96v7M474,114.5h7M477.5,111v7M474,104.5h7M477.5,101v7M474,101.5h7M477.5,98v7M475,99.5h7M478.5,96v7M475,102.5h7M478.5,99v7M475,105.5h7M478.5,102v7M475,100.5h7M478.5,97v7M476,102.5h7M479.5,99v7M476,103.5h7M479.5,100v7M476,99.5h7M479.5,96v7M476,105.5h7M479.5,102v7M476,294.5h7M479.5,291v7M476,290.5h7M479.5,287v7M476,292.5h7M479.5,289v7M476,296.5h7M479.5,293v7M476,288.5h7M479.5,285v7M476,285.5h7M479.5,282v7M476,293.5h7M479.5,290v7M477,290.5h7M480.5,287v7M477,298.5h7M480.5,295v7M477,292.5h7M480.5,289v7M477,288.5h7M480.5,285v7M477,293.5h7M480.5,290v7M478,289.5h7M481.5,286v7M478,304.5h7M481.5,301v7M478,290.5h7M481.5,287v7M478,299.5h7M481.5,296v7M478,293.5h7M481.5,290v7M478,294.5h7M481.5,291v7M479,293.5h7M482.5,290v7M479,288.5h7M482.5,285v7M479,287.5h7M482.5,284v7M479,290.5h7M482.5,287v7M479,289.5h7M482.5,286v7M480,293.5h7M483.5,290v7M480,292.5h7M483.5,289v7M480,294.5h7M483.5,291v7M480,291.5h7M483.5,288v7M481,290.5h7M484.5,287v7M481,278.5h7M484.5,275v7M481,291.5h7M484.5,288v7M481,292.5h7M484.5,289v7M482,290.5h7M485.5,287v7M482,287.5h7M485.5,284v7M482,291.5h7M485.5,288v7M483,287.5h7M486.5,284v7M483,291.5h7M486.5,288v7M483,289.5h7M486.5,286v7M484,291.5h7M487.5,288v7M484,296.5h7M487.5,293v7M484,293.5h7M487.5,290v7M485,287.5h7M488.5,284v7M485,290.5h7M488.5,287v7M485,288.5h7M488.5,285v7M485,286.5h7M488.5,283v7M485,298.5h7M488.5,295v7M486,287.5h7M489.5,284v7M486,298.5h7M489.5,295v7M486,291.5h7M489.5,288v7M486,292.5h7M489.5,289v7M487,292.5h7M490.5,289v7M487,298.5h7M490.5,295v7M487,293.5h7M490.5,290v7M487,294.5h7M490.5,291v7M487,288.5h7M490.5,285v7M488,289.5h7M491.5,286v7M488,287.5h7M491.5,284v7M488,288.5h7M491.5,285v7M488,292.5h7M491.5,289v7M489,289.5h7M492.5,286v7M489,293.5h7M492.5,290v7M489,294.5h7M492.5,291v7M489,291.5h7M492.5,288v7M490,289.5h7M493.5,286v7M490,288.5h7M493.5,285v7M490,293.5h7M493.5,290v7M490,297.5h7M493.5,294v7M491,293.5h7M494.5,290v7M491,290.5h7M494.5,287v7M491,291.5h7M494.5,288v7M491,288.5h7M494.5,285v7M492,290.5h7M495.5,287v7M492,300.5h7M495.5,297v7M492,294.5h7M495.5,291v7M492,291.5h7M495.5,288v7M492,292.5h7M495.5,289v7M493,288.5h7M496.5,285v7M493,287.5h7M496.5,284v7M493,291.5h7M496.5,288v7M494,290.5h7M497.5,287v7M494,288.5h7M497.5,285v7M494,292.5h7M497.5,289v7M494,294.5h7M497.5,291v7M495,290.5h7M498.5,287v7M495,280.5h7M498.5,277v7M495,288.5h7M498.5,285v7M495,289.5h7M498.5,286v7M495,292.5h7M498.5,289v7M495,294.5h7M498.5,291v7M496,290.5h7M499.5,287v7M496,280.5h7M499.5,277v7M496,291.5h7M499.5,288v7M496,287.5h7M499.5,284v7M496,297.5h7M499.5,294v7M497,289.5h7M500.5,286v7M497,282.5h7M500.5,279v7M497,291.5h7M500.5,288v7M497,290.5h7M500.5,287v7M498,289.5h7M501.5,286v7M498,280.5h7M501.5,277v7M498,290.5h7M501.5,287v7M498,287.5h7M501.5,284v7M499,287.5h7M502.5,284v7M499,280.5h7M502.5,277v7M499,294.5h7M502.5,291v7M499,293.5h7M502.5,290v7M499,282.5h7M502.5,279v7M499,290.5h7M502.5,287v7M500,290.5h7M503.5,287v7M500,282.5h7M503.5,279v7M500,289.5h7M503.5,286v7M500,293.5h7M503.5,290v7M501,291.5h7M504.5,288v7M501,294.5h7M504.5,291v7M501,288.5h7M504.5,285v7M501,293.5h7M504.5,290v7M501,297.5h7M504.5,294v7M502,288.5h7M505.5,285v7M502,328.5h7M505.5,325v7M502,289.5h7M505.5,286v7M502,290.5h7M505.5,287v7M503,292.5h7M506.5,289v7M503,294.5h7M506.5,291v7M503,289.5h7M506.5,286v7M503,291.5h7M506.5,288v7M504,293.5h7M507.5,290v7M504,289.5h7M507.5,286v7M504,290.5h7M507.5,287v7M505,292.5h7M508.5,289v7M505,294.5h7M508.5,291v7M505,295.5h7M508.5,292v7M505,288.5h7M508.5,285v7M506,293.5h7M509.5,290v7M506,295.5h7M509.5,292v7M506,290.5h7M509.5,287v7M506,291.5h7M509.5,288v7M507,290.5h7M510.5,287v7M507,300.5h7M510.5,297v7M507,291.5h7M510.5,288v7M507,289.5h7M510.5,286v7M507,287.5h7M510.5,284v7M508,290.5h7M511.5,287v7M508,288.5h7M511.5,285v7M508,286.5h7M511.5,283v7M508,287.5h7M511.5,284v7M508,291.5h7M511.5,288v7M509,291.5h7M512.5,288v7M509,292.5h7M512.5,289v7M509,288.5h7M512.5,285v7M509,289.5h7M512.5,286v7M509,287.5h7M512.5,284v7M510,291.5h7M513.5,288v7M510,286.5h7M513.5,283v7M510,290.5h7M513.5,287v7M510,288.5h7M513.5,285v7M510,289.5h7M513.5,286v7M511,291.5h7M514.5,288v7M511,290.5h7M514.5,287v7M511,292.5h7M514.5,289v7M511,288.5h7M514.5,285v7M512,286.5h7M515.5,283v7M512,290.5h7M515.5,287v7M512,293.5h7M515.5,290v7M512,292.5h7M515.5,289v7M513,289.5h7M516.5,286v7M513,290.5h7M516.5,287v7M513,287.5h7M516.5,284v7M513,293.5h7M516.5,290v7M513,288.5h7M516.5,285v7M514,288.5h7M517.5,285v7M514,292.5h7M517.5,289v7M514,283.5h7M517.5,280v7M514,287.5h7M517.5,284v7M515,288.5h7M518.5,285v7M515,308.5h7M518.5,305v7M515,289.5h7M518.5,286v7M515,290.5h7M518.5,287v7M516,288.5h7M519.5,285v7M516,289.5h7M519.5,286v7M516,287.5h7M519.5,284v7M516,286.5h7M519.5,283v7M517,298.5h7M520.5,295v7M517,288.5h7M520.5,285v7M517,297.5h7M520.5,294v7M517,286.5h7M520.5,283v7M518,292.5h7M521.5,289v7M518,287.5h7M521.5,284v7M518,290.5h7M521.5,287v7M518,286.5h7M521.5,283v7M519,289.5h7M522.5,286v7M519,290.5h7M522.5,287v7M520,293.5h7M523.5,290v7M520,291.5h7M523.5,288v7M520,289.5h7M523.5,286v7M520,286.5h7M523.5,283v7M520,287.5h7M523.5,284v7M521,289.5h7M524.5,286v7M521,288.5h7M524.5,285v7M521,287.5h7M524.5,284v7M521,292.5h7M524.5,289v7M522,288.5h7M525.5,285v7M522,298.5h7M525.5,295v7M522,291.5h7M525.5,288v7M522,292.5h7M525.5,289v7M523,287.5h7M526.5,284v7M523,288.5h7M526.5,285v7M523,289.5h7M526.5,286v7M523,285.5h7M526.5,282v7M524,286.5h7M527.5,283v7M524,292.5h7M527.5,289v7M524,287.5h7M527.5,284v7M524,297.5h7M527.5,294v7M525,290.5h7M528.5,287v7M525,291.5h7M528.5,288v7M525,288.5h7M528.5,285v7M525,287.5h7M528.5,284v7M526,289.5h7M529.5,286v7M526,286.5h7M529.5,283v7M526,295.5h7M529.5,292v7M526,290.5h7M529.5,287v7M526,291.5h7M529.5,288v7M527,288.5h7M530.5,285v7M527,300.5h7M530.5,297v7M527,286.5h7M530.5,283v7M527,291.5h7M530.5,288v7M527,285.5h7M530.5,282v7M528,288.5h7M531.5,285v7M528,290.5h7M531.5,287v7M528,286.5h7M531.5,283v7M529,289.5h7M532.5,286v7M529,286.5h7M532.5,283v7M529,285.5h7M532.5,282v7M529,290.5h7M532.5,287v7M529,291.5h7M532.5,288v7M530,289.5h7M533.5,286v7M530,291.5h7M533.5,288v7M530,290.5h7M533.5,287v7M530,286.5h7M533.5,283v7M531,286.5h7M534.5,283v7M531,287.5h7M534.5,284v7M531,290.5h7M534.5,287v7M532,290.5h7M535.5,287v7M532,291.5h7M535.5,288v7M532,288.5h7M535.5,285v7M533,285.5h7M536.5,282v7M533,300.5h7M536.5,297v7M533,287.5h7M536.5,284v7M533,288.5h7M536.5,285v7M534,289.5h7M537.5,286v7M534,291.5h7M537.5,288v7M534,287.5h7M537.5,284v7M535,291.5h7M538.5,288v7M535,287.5h7M538.5,284v7M535,289.5h7M538.5,286v7M535,286.5h7M538.5,283v7M535,290.5h7M538.5,287v7M536,290.5h7M539.5,287v7M536,286.5h7M539.5,283v7M536,293.5h7M539.5,290v7M537,295.5h7M540.5,292v7M537,305.5h7M540.5,302v7M537,286.5h7M540.5,283v7M537,290.5h7M540.5,287v7M537,287.5h7M540.5,284v7M538,288.5h7M541.5,285v7M538,296.5h7M541.5,293v7M538,290.5h7M541.5,287v7M539,286.5h7M542.5,283v7M539,291.5h7M542.5,288v7M539,290.5h7M542.5,287v7M539,288.5h7M542.5,285v7M540,289.5h7M543.5,286v7M540,302.5h7M543.5,299v7M540,290.5h7M543.5,287v7M540,294.5h7M543.5,291v7M540,287.5h7M543.5,284v7M541,289.5h7M544.5,286v7M541,288.5h7M544.5,285v7M541,285.5h7M544.5,282v7M541,297.5h7M544.5,294v7M542,289.5h7M545.5,286v7M542,287.5h7M545.5,284v7M542,290.5h7M545.5,287v7M543,289.5h7M546.5,286v7M543,290.5h7M546.5,287v7M543,294.5h7M546.5,291v7M543,288.5h7M546.5,285v7M543,292.5h7M546.5,289v7M544,291.5h7M547.5,288v7M544,292.5h7M547.5,289v7M544,289.5h7M547.5,286v7M544,287.5h7M547.5,284v7M545,291.5h7M548.5,288v7M545,290.5h7M548.5,287v7M545,288.5h7M548.5,285v7M545,292.5h7M548.5,289v7M546,290.5h7M549.5,287v7M546,289.5h7M549.5,286v7M546,296.5h7M549.5,293v7M546,291.5h7M549.5,288v7M547,292.5h7M550.5,289v7M547,290.5h7M550.5,287v7M547,289.5h7M550.5,286v7M547,288.5h7M550.5,285v7M548,291.5h7M551.5,288v7M548,292.5h7M551.5,289v7M548,290.5h7M551.5,287v7M549,289.5h7M552.5,286v7M549,291.5h7M552.5,288v7M549,292.5h7M552.5,289v7M550,291.5h7M553.5,288v7M550,290.5h7M553.5,287v7M550,289.5h7M553.5,286v7M550,295.5h7M553.5,292v7M551,289.5h7M554.5,286v7M551,292.5h7M554.5,289v7M551,288.5h7M554.5,285v7M551,290.5h7M554.5,287v7M552,289.5h7M555.5,286v7M552,291.5h7M555.5,288v7M552,290.5h7M555.5,287v7M552,292.5h7M555.5,289v7M553,287.5h7M556.5,284v7M553,300.5h7M556.5,297v7M553,291.5h7M556.5,288v7M553,292.5h7M556.5,289v7M553,289.5h7M556.5,286v7M554,291.5h7M557.5,288v7M554,292.5h7M557.5,289v7M554,288.5h7M557.5,285v7M554,296.5h7M557.5,293v7M555,292.5h7M558.5,289v7M555,278.5h7M558.5,275v7M555,291.5h7M558.5,288v7M555,287.5h7M558.5,284v7M555,289.5h7M558.5,286v7M556,291.5h7M559.5,288v7M556,278.5h7M559.5,275v7M556,288.5h7M559.5,285v7M556,297.5h7M559.5,294v7M556,286.5h7M559.5,283v7M557,289.5h7M560.5,286v7M557,300.5h7M560.5,297v7M557,291.5h7M560.5,288v7M557,278.5h7M560.5,275v7M557,286.5h7M560.5,283v7M557,296.5h7M560.5,293v7M558,289.5h7M561.5,286v7M558,280.5h7M561.5,277v7M558,284.5h7M561.5,281v7M558,288.5h7M561.5,285v7M558,287.5h7M561.5,284v7M559,290.5h7M562.5,287v7M559,282.5h7M562.5,279v7M559,291.5h7M562.5,288v7"/></g>
</svg></body></html>
